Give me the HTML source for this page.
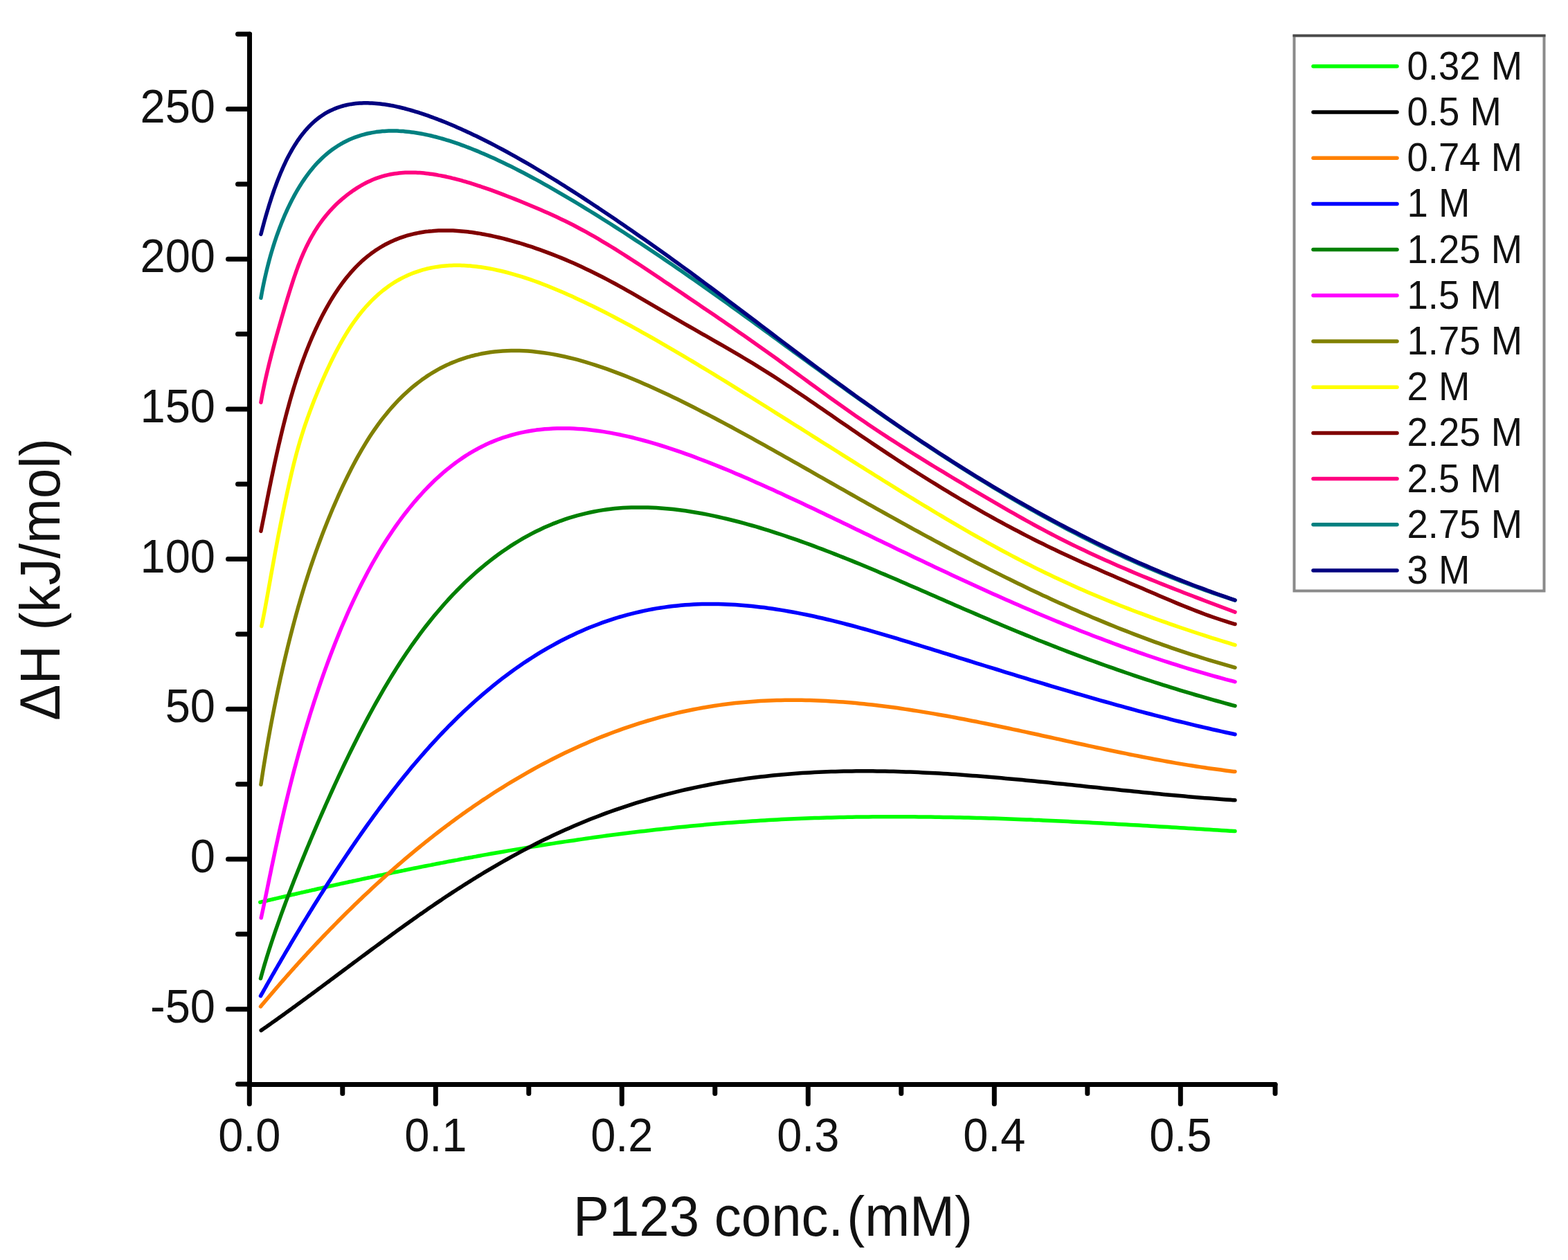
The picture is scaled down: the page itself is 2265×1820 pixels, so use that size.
<!DOCTYPE html><html><head><meta charset="utf-8"><style>html,body{margin:0;padding:0;background:#fff}svg{display:block}</style></head><body><svg width="2265" height="1820" viewBox="0 0 2265 1820">
<rect width="100%" height="100%" fill="#fff"/>
<g fill="none" stroke-width="5.5" stroke-linejoin="round" stroke-linecap="round">
<path stroke="#00FF00" d="M375.8 1303.2 L377.3 1302.9 L378.8 1302.5 L380.3 1302.2 L381.8 1301.8 L383.3 1301.5 L384.8 1301.1 L386.3 1300.7 L387.8 1300.4 L389.3 1300.0 L390.8 1299.7 L392.3 1299.3 L393.8 1299.0 L395.3 1298.6 L396.8 1298.3 L398.3 1297.9 L399.8 1297.6 L401.3 1297.2 L402.8 1296.9 L404.3 1296.5 L405.8 1296.2 L407.3 1295.8 L408.8 1295.5 L410.3 1295.1 L411.8 1294.8 L413.3 1294.4 L414.8 1294.1 L416.3 1293.7 L417.8 1293.4 L419.3 1293.0 L420.8 1292.7 L422.3 1292.3 L423.8 1292.0 L425.3 1291.7 L426.8 1291.3 L428.3 1291.0 L429.8 1290.6 L431.3 1290.3 L432.8 1289.9 L434.3 1289.6 L435.8 1289.2 L437.3 1288.9 L438.8 1288.6 L440.3 1288.2 L441.8 1287.9 L443.3 1287.5 L444.8 1287.2 L446.3 1286.9 L447.8 1286.5 L449.3 1286.2 L450.8 1285.8 L453.8 1285.2 L456.8 1284.5 L459.8 1283.8 L462.8 1283.1 L465.8 1282.4 L468.8 1281.8 L471.8 1281.1 L474.8 1280.4 L477.8 1279.8 L480.8 1279.1 L483.8 1278.4 L486.8 1277.8 L489.8 1277.1 L492.8 1276.4 L495.8 1275.8 L498.8 1275.1 L501.8 1274.5 L504.8 1273.8 L507.8 1273.2 L510.8 1272.5 L513.8 1271.9 L516.8 1271.2 L519.8 1270.6 L522.8 1269.9 L525.8 1269.3 L528.8 1268.6 L531.8 1268.0 L534.8 1267.4 L537.8 1266.7 L540.8 1266.1 L543.8 1265.4 L546.8 1264.8 L549.8 1264.2 L552.8 1263.6 L555.8 1262.9 L558.8 1262.3 L561.8 1261.7 L564.8 1261.1 L567.8 1260.4 L570.8 1259.8 L573.8 1259.2 L576.8 1258.6 L579.8 1258.0 L582.8 1257.4 L585.8 1256.7 L588.8 1256.1 L591.8 1255.5 L594.8 1254.9 L597.8 1254.3 L600.8 1253.7 L603.8 1253.1 L606.8 1252.5 L609.8 1251.9 L612.8 1251.3 L615.8 1250.7 L618.8 1250.1 L621.8 1249.6 L624.8 1249.0 L627.8 1248.4 L630.8 1247.8 L633.8 1247.2 L636.8 1246.6 L639.8 1246.1 L642.8 1245.5 L645.8 1244.9 L648.8 1244.3 L651.8 1243.8 L654.8 1243.2 L657.8 1242.6 L660.8 1242.1 L663.8 1241.5 L666.8 1240.9 L669.8 1240.4 L672.8 1239.8 L675.8 1239.3 L678.8 1238.7 L681.8 1238.2 L684.8 1237.6 L687.8 1237.1 L690.8 1236.5 L693.8 1236.0 L696.8 1235.4 L699.8 1234.9 L702.8 1234.4 L708.8 1233.3 L714.8 1232.2 L720.8 1231.2 L726.8 1230.2 L732.8 1229.1 L738.8 1228.1 L744.8 1227.1 L750.8 1226.1 L756.8 1225.1 L762.8 1224.1 L768.8 1223.1 L774.8 1222.2 L780.8 1221.2 L786.8 1220.2 L792.8 1219.3 L798.8 1218.4 L804.8 1217.4 L810.8 1216.5 L816.8 1215.6 L822.8 1214.7 L828.8 1213.9 L834.8 1213.0 L840.8 1212.1 L846.8 1211.3 L852.8 1210.4 L858.8 1209.6 L864.8 1208.8 L870.8 1207.9 L876.8 1207.1 L882.8 1206.3 L888.8 1205.6 L894.8 1204.8 L900.8 1204.0 L906.8 1203.3 L912.8 1202.5 L918.8 1201.8 L924.8 1201.1 L930.8 1200.4 L936.8 1199.7 L942.8 1199.0 L948.8 1198.3 L954.8 1197.7 L960.8 1197.0 L966.8 1196.4 L972.8 1195.7 L978.8 1195.1 L984.8 1194.5 L990.8 1193.9 L996.8 1193.3 L1002.8 1192.8 L1008.8 1192.2 L1014.8 1191.7 L1020.8 1191.1 L1026.8 1190.6 L1032.8 1190.1 L1038.8 1189.6 L1044.8 1189.1 L1050.8 1188.6 L1056.8 1188.2 L1062.8 1187.7 L1068.8 1187.3 L1074.8 1186.9 L1080.8 1186.4 L1086.8 1186.0 L1092.8 1185.7 L1098.8 1185.3 L1104.8 1184.9 L1110.8 1184.6 L1116.8 1184.2 L1122.8 1183.9 L1128.8 1183.6 L1134.8 1183.3 L1140.8 1183.0 L1146.8 1182.8 L1152.8 1182.5 L1158.8 1182.3 L1164.8 1182.0 L1170.8 1181.8 L1176.8 1181.6 L1182.8 1181.4 L1188.8 1181.2 L1194.8 1181.0 L1200.8 1180.9 L1206.8 1180.7 L1212.8 1180.6 L1218.8 1180.4 L1224.8 1180.3 L1230.8 1180.2 L1236.8 1180.1 L1242.8 1180.0 L1248.8 1180.0 L1254.8 1179.9 L1260.8 1179.8 L1266.8 1179.8 L1272.8 1179.8 L1278.8 1179.7 L1284.8 1179.7 L1290.8 1179.7 L1296.8 1179.7 L1302.8 1179.7 L1308.8 1179.8 L1314.8 1179.8 L1320.8 1179.8 L1326.8 1179.9 L1332.8 1179.9 L1338.8 1180.0 L1344.8 1180.1 L1350.8 1180.2 L1356.8 1180.2 L1362.8 1180.4 L1368.8 1180.5 L1374.8 1180.6 L1380.8 1180.7 L1386.8 1180.8 L1392.8 1181.0 L1398.8 1181.1 L1404.8 1181.3 L1410.8 1181.4 L1416.8 1181.6 L1422.8 1181.8 L1428.8 1182.0 L1434.8 1182.1 L1440.8 1182.3 L1446.8 1182.5 L1452.8 1182.8 L1458.8 1183.0 L1464.8 1183.2 L1470.8 1183.4 L1476.8 1183.7 L1482.8 1183.9 L1488.8 1184.1 L1494.8 1184.4 L1500.8 1184.6 L1506.8 1184.9 L1512.8 1185.2 L1518.8 1185.4 L1524.8 1185.7 L1530.8 1186.0 L1536.8 1186.3 L1542.8 1186.6 L1548.8 1186.9 L1554.8 1187.2 L1560.8 1187.5 L1566.8 1187.8 L1572.8 1188.1 L1578.8 1188.4 L1584.8 1188.7 L1590.8 1189.0 L1596.8 1189.4 L1602.8 1189.7 L1608.8 1190.0 L1614.8 1190.4 L1620.8 1190.7 L1626.8 1191.0 L1632.8 1191.4 L1638.8 1191.7 L1644.8 1192.1 L1650.8 1192.4 L1656.8 1192.8 L1662.8 1193.2 L1668.8 1193.5 L1674.8 1193.9 L1680.8 1194.2 L1686.8 1194.6 L1692.8 1195.0 L1698.8 1195.3 L1704.8 1195.7 L1710.8 1196.1 L1716.8 1196.4 L1722.8 1196.8 L1728.8 1197.2 L1734.8 1197.6 L1740.8 1197.9 L1746.8 1198.3 L1752.8 1198.7 L1758.8 1199.0 L1764.8 1199.4 L1770.8 1199.8 L1776.8 1200.2 L1782.8 1200.5 L1784.0 1200.6"/>
<path stroke="#000000" d="M377.2 1488.4 L378.7 1487.4 L380.2 1486.3 L381.7 1485.3 L383.2 1484.2 L384.7 1483.2 L386.2 1482.1 L387.7 1481.1 L389.2 1480.0 L390.7 1479.0 L392.2 1477.9 L393.7 1476.8 L395.2 1475.8 L396.7 1474.7 L398.2 1473.6 L399.7 1472.6 L401.2 1471.5 L402.7 1470.4 L404.2 1469.4 L405.7 1468.3 L407.2 1467.2 L408.7 1466.1 L410.2 1465.1 L411.7 1464.0 L413.2 1462.9 L414.7 1461.8 L416.2 1460.7 L417.7 1459.6 L419.2 1458.6 L420.7 1457.5 L422.2 1456.4 L423.7 1455.3 L425.2 1454.2 L426.7 1453.1 L428.2 1452.0 L429.7 1450.9 L431.2 1449.8 L432.7 1448.7 L434.2 1447.6 L435.7 1446.5 L437.2 1445.4 L438.7 1444.3 L440.2 1443.2 L441.7 1442.1 L443.2 1441.0 L444.7 1439.9 L446.2 1438.8 L447.7 1437.7 L449.2 1436.6 L450.7 1435.5 L453.7 1433.3 L456.7 1431.1 L459.7 1428.8 L462.7 1426.6 L465.7 1424.4 L468.7 1422.1 L471.7 1419.9 L474.7 1417.7 L477.7 1415.4 L480.7 1413.2 L483.7 1411.0 L486.7 1408.7 L489.7 1406.5 L492.7 1404.3 L495.7 1402.0 L498.7 1399.8 L501.7 1397.6 L504.7 1395.3 L507.7 1393.1 L510.7 1390.8 L513.7 1388.6 L516.7 1386.4 L519.7 1384.1 L522.7 1381.9 L525.7 1379.7 L528.7 1377.5 L531.7 1375.2 L534.7 1373.0 L537.7 1370.8 L540.7 1368.6 L543.7 1366.4 L546.7 1364.2 L549.7 1362.0 L552.7 1359.7 L555.7 1357.6 L558.7 1355.4 L561.7 1353.2 L564.7 1351.0 L567.7 1348.8 L570.7 1346.6 L573.7 1344.4 L576.7 1342.3 L579.7 1340.1 L582.7 1338.0 L585.7 1335.8 L588.7 1333.7 L591.7 1331.5 L594.7 1329.4 L597.7 1327.3 L600.7 1325.2 L603.7 1323.1 L606.7 1320.9 L609.7 1318.9 L612.7 1316.8 L615.7 1314.7 L618.7 1312.6 L621.7 1310.5 L624.7 1308.5 L627.7 1306.4 L630.7 1304.4 L633.7 1302.4 L636.7 1300.4 L639.7 1298.3 L642.7 1296.3 L645.7 1294.3 L648.7 1292.4 L651.7 1290.4 L654.7 1288.4 L657.7 1286.5 L660.7 1284.5 L663.7 1282.6 L666.7 1280.7 L669.7 1278.8 L672.7 1276.9 L675.7 1275.0 L678.7 1273.1 L681.7 1271.2 L684.7 1269.3 L687.7 1267.5 L690.7 1265.6 L693.7 1263.8 L696.7 1262.0 L699.7 1260.2 L702.7 1258.4 L708.7 1254.8 L714.7 1251.3 L720.7 1247.8 L726.7 1244.4 L732.7 1241.0 L738.7 1237.6 L744.7 1234.3 L750.7 1231.1 L756.7 1227.9 L762.7 1224.7 L768.7 1221.6 L774.7 1218.5 L780.7 1215.5 L786.7 1212.6 L792.7 1209.7 L798.7 1206.8 L804.7 1204.0 L810.7 1201.2 L816.7 1198.5 L822.7 1195.9 L828.7 1193.3 L834.7 1190.7 L840.7 1188.2 L846.7 1185.7 L852.7 1183.3 L858.7 1181.0 L864.7 1178.7 L870.7 1176.4 L876.7 1174.2 L882.7 1172.0 L888.7 1169.9 L894.7 1167.8 L900.7 1165.8 L906.7 1163.8 L912.7 1161.8 L918.7 1159.9 L924.7 1158.1 L930.7 1156.3 L936.7 1154.5 L942.7 1152.8 L948.7 1151.1 L954.7 1149.5 L960.7 1147.9 L966.7 1146.3 L972.7 1144.8 L978.7 1143.3 L984.7 1141.9 L990.7 1140.5 L996.7 1139.2 L1002.7 1137.9 L1008.7 1136.6 L1014.7 1135.4 L1020.7 1134.2 L1026.7 1133.0 L1032.7 1131.9 L1038.7 1130.8 L1044.7 1129.8 L1050.7 1128.8 L1056.7 1127.8 L1062.7 1126.9 L1068.7 1126.0 L1074.7 1125.1 L1080.7 1124.3 L1086.7 1123.5 L1092.7 1122.8 L1098.7 1122.1 L1104.7 1121.4 L1110.7 1120.7 L1116.7 1120.1 L1122.7 1119.5 L1128.7 1118.9 L1134.7 1118.4 L1140.7 1117.9 L1146.7 1117.5 L1152.7 1117.0 L1158.7 1116.6 L1164.7 1116.2 L1170.7 1115.9 L1176.7 1115.6 L1182.7 1115.3 L1188.7 1115.0 L1194.7 1114.8 L1200.7 1114.6 L1206.7 1114.4 L1212.7 1114.2 L1218.7 1114.1 L1224.7 1114.0 L1230.7 1113.9 L1236.7 1113.8 L1242.7 1113.8 L1248.7 1113.8 L1254.7 1113.8 L1260.7 1113.8 L1266.7 1113.9 L1272.7 1114.0 L1278.7 1114.1 L1284.7 1114.2 L1290.7 1114.3 L1296.7 1114.5 L1302.7 1114.7 L1308.7 1114.9 L1314.7 1115.1 L1320.7 1115.3 L1326.7 1115.6 L1332.7 1115.9 L1338.7 1116.2 L1344.7 1116.5 L1350.7 1116.8 L1356.7 1117.1 L1362.7 1117.5 L1368.7 1117.8 L1374.7 1118.2 L1380.7 1118.6 L1386.7 1119.0 L1392.7 1119.5 L1398.7 1119.9 L1404.7 1120.4 L1410.7 1120.8 L1416.7 1121.3 L1422.7 1121.8 L1428.7 1122.3 L1434.7 1122.8 L1440.7 1123.3 L1446.7 1123.8 L1452.7 1124.4 L1458.7 1124.9 L1464.7 1125.5 L1470.7 1126.0 L1476.7 1126.6 L1482.7 1127.2 L1488.7 1127.7 L1494.7 1128.3 L1500.7 1128.9 L1506.7 1129.5 L1512.7 1130.1 L1518.7 1130.7 L1524.7 1131.4 L1530.7 1132.0 L1536.7 1132.6 L1542.7 1133.2 L1548.7 1133.8 L1554.7 1134.5 L1560.7 1135.1 L1566.7 1135.7 L1572.7 1136.4 L1578.7 1137.0 L1584.7 1137.6 L1590.7 1138.3 L1596.7 1138.9 L1602.7 1139.5 L1608.7 1140.1 L1614.7 1140.8 L1620.7 1141.4 L1626.7 1142.0 L1632.7 1142.6 L1638.7 1143.2 L1644.7 1143.8 L1650.7 1144.5 L1656.7 1145.1 L1662.7 1145.6 L1668.7 1146.2 L1674.7 1146.8 L1680.7 1147.4 L1686.7 1148.0 L1692.7 1148.5 L1698.7 1149.1 L1704.7 1149.6 L1710.7 1150.1 L1716.7 1150.7 L1722.7 1151.2 L1728.7 1151.7 L1734.7 1152.2 L1740.7 1152.7 L1746.7 1153.1 L1752.7 1153.6 L1758.7 1154.1 L1764.7 1154.5 L1770.7 1154.9 L1776.7 1155.3 L1782.7 1155.7 L1784.0 1155.8"/>
<path stroke="#FF8000" d="M376.5 1453.9 L378.0 1452.1 L379.5 1450.3 L381.0 1448.6 L382.5 1446.8 L384.0 1445.0 L385.5 1443.2 L387.0 1441.5 L388.5 1439.7 L390.0 1437.9 L391.5 1436.2 L393.0 1434.4 L394.5 1432.7 L396.0 1430.9 L397.5 1429.2 L399.0 1427.4 L400.5 1425.7 L402.0 1424.0 L403.5 1422.3 L405.0 1420.5 L406.5 1418.8 L408.0 1417.1 L409.5 1415.4 L411.0 1413.7 L412.5 1412.0 L414.0 1410.3 L415.5 1408.6 L417.0 1406.9 L418.5 1405.2 L420.0 1403.5 L421.5 1401.8 L423.0 1400.1 L424.5 1398.5 L426.0 1396.8 L427.5 1395.1 L429.0 1393.5 L430.5 1391.8 L432.0 1390.1 L433.5 1388.5 L435.0 1386.8 L436.5 1385.2 L438.0 1383.6 L439.5 1381.9 L441.0 1380.3 L442.5 1378.7 L444.0 1377.0 L445.5 1375.4 L447.0 1373.8 L448.5 1372.2 L450.0 1370.6 L453.0 1367.4 L456.0 1364.2 L459.0 1361.0 L462.0 1357.8 L465.0 1354.7 L468.0 1351.5 L471.0 1348.4 L474.0 1345.3 L477.0 1342.2 L480.0 1339.2 L483.0 1336.1 L486.0 1333.1 L489.0 1330.0 L492.0 1327.0 L495.0 1324.0 L498.0 1321.0 L501.0 1318.1 L504.0 1315.1 L507.0 1312.2 L510.0 1309.2 L513.0 1306.3 L516.0 1303.4 L519.0 1300.6 L522.0 1297.7 L525.0 1294.8 L528.0 1292.0 L531.0 1289.2 L534.0 1286.4 L537.0 1283.6 L540.0 1280.8 L543.0 1278.0 L546.0 1275.3 L549.0 1272.6 L552.0 1269.8 L555.0 1267.1 L558.0 1264.5 L561.0 1261.8 L564.0 1259.1 L567.0 1256.5 L570.0 1253.9 L573.0 1251.2 L576.0 1248.6 L579.0 1246.1 L582.0 1243.5 L585.0 1240.9 L588.0 1238.4 L591.0 1235.9 L594.0 1233.4 L597.0 1230.9 L600.0 1228.4 L603.0 1225.9 L606.0 1223.5 L609.0 1221.0 L612.0 1218.6 L615.0 1216.2 L618.0 1213.8 L621.0 1211.4 L624.0 1209.1 L627.0 1206.7 L630.0 1204.4 L633.0 1202.0 L636.0 1199.7 L639.0 1197.4 L642.0 1195.2 L645.0 1192.9 L648.0 1190.7 L651.0 1188.4 L654.0 1186.2 L657.0 1184.0 L660.0 1181.8 L663.0 1179.6 L666.0 1177.5 L669.0 1175.3 L672.0 1173.2 L675.0 1171.1 L678.0 1169.0 L681.0 1166.9 L684.0 1164.8 L687.0 1162.7 L690.0 1160.7 L693.0 1158.7 L696.0 1156.6 L699.0 1154.6 L702.0 1152.7 L708.0 1148.7 L714.0 1144.8 L720.0 1141.0 L726.0 1137.3 L732.0 1133.5 L738.0 1129.9 L744.0 1126.3 L750.0 1122.8 L756.0 1119.3 L762.0 1115.9 L768.0 1112.5 L774.0 1109.2 L780.0 1105.9 L786.0 1102.8 L792.0 1099.6 L798.0 1096.5 L804.0 1093.5 L810.0 1090.5 L816.0 1087.6 L822.0 1084.8 L828.0 1082.0 L834.0 1079.2 L840.0 1076.5 L846.0 1073.9 L852.0 1071.3 L858.0 1068.8 L864.0 1066.3 L870.0 1063.9 L876.0 1061.6 L882.0 1059.3 L888.0 1057.0 L894.0 1054.8 L900.0 1052.7 L906.0 1050.6 L912.0 1048.6 L918.0 1046.6 L924.0 1044.7 L930.0 1042.8 L936.0 1041.0 L942.0 1039.3 L948.0 1037.6 L954.0 1035.9 L960.0 1034.4 L966.0 1032.8 L972.0 1031.3 L978.0 1029.9 L984.0 1028.5 L990.0 1027.2 L996.0 1026.0 L1002.0 1024.8 L1008.0 1023.6 L1014.0 1022.5 L1020.0 1021.5 L1026.0 1020.5 L1032.0 1019.5 L1038.0 1018.6 L1044.0 1017.8 L1050.0 1017.0 L1056.0 1016.3 L1062.0 1015.6 L1068.0 1015.0 L1074.0 1014.4 L1080.0 1013.9 L1086.0 1013.4 L1092.0 1013.0 L1098.0 1012.6 L1104.0 1012.3 L1110.0 1012.0 L1116.0 1011.8 L1122.0 1011.6 L1128.0 1011.4 L1134.0 1011.3 L1140.0 1011.3 L1146.0 1011.3 L1152.0 1011.3 L1158.0 1011.3 L1164.0 1011.5 L1170.0 1011.6 L1176.0 1011.8 L1182.0 1012.0 L1188.0 1012.3 L1194.0 1012.6 L1200.0 1012.9 L1206.0 1013.3 L1212.0 1013.7 L1218.0 1014.1 L1224.0 1014.6 L1230.0 1015.1 L1236.0 1015.6 L1242.0 1016.2 L1248.0 1016.8 L1254.0 1017.4 L1260.0 1018.1 L1266.0 1018.8 L1272.0 1019.5 L1278.0 1020.2 L1284.0 1021.0 L1290.0 1021.8 L1296.0 1022.6 L1302.0 1023.5 L1308.0 1024.4 L1314.0 1025.3 L1320.0 1026.2 L1326.0 1027.1 L1332.0 1028.1 L1338.0 1029.1 L1344.0 1030.1 L1350.0 1031.1 L1356.0 1032.2 L1362.0 1033.2 L1368.0 1034.3 L1374.0 1035.4 L1380.0 1036.5 L1386.0 1037.7 L1392.0 1038.8 L1398.0 1040.0 L1404.0 1041.2 L1410.0 1042.3 L1416.0 1043.6 L1422.0 1044.8 L1428.0 1046.0 L1434.0 1047.2 L1440.0 1048.5 L1446.0 1049.7 L1452.0 1051.0 L1458.0 1052.3 L1464.0 1053.6 L1470.0 1054.8 L1476.0 1056.1 L1482.0 1057.4 L1488.0 1058.7 L1494.0 1060.0 L1500.0 1061.3 L1506.0 1062.7 L1512.0 1064.0 L1518.0 1065.3 L1524.0 1066.6 L1530.0 1067.9 L1536.0 1069.2 L1542.0 1070.6 L1548.0 1071.9 L1554.0 1073.2 L1560.0 1074.5 L1566.0 1075.8 L1572.0 1077.1 L1578.0 1078.4 L1584.0 1079.7 L1590.0 1080.9 L1596.0 1082.2 L1602.0 1083.5 L1608.0 1084.7 L1614.0 1086.0 L1620.0 1087.2 L1626.0 1088.4 L1632.0 1089.7 L1638.0 1090.9 L1644.0 1092.0 L1650.0 1093.2 L1656.0 1094.4 L1662.0 1095.5 L1668.0 1096.7 L1674.0 1097.8 L1680.0 1098.9 L1686.0 1100.0 L1692.0 1101.0 L1698.0 1102.1 L1704.0 1103.1 L1710.0 1104.1 L1716.0 1105.1 L1722.0 1106.0 L1728.0 1107.0 L1734.0 1107.9 L1740.0 1108.8 L1746.0 1109.7 L1752.0 1110.5 L1758.0 1111.3 L1764.0 1112.1 L1770.0 1112.9 L1776.0 1113.7 L1782.0 1114.4 L1784.0 1114.6"/>
<path stroke="#0000FF" d="M376.5 1438.6 L378.0 1435.9 L379.5 1433.3 L381.0 1430.6 L382.5 1428.0 L384.0 1425.3 L385.5 1422.7 L387.0 1420.0 L388.5 1417.4 L390.0 1414.8 L391.5 1412.2 L393.0 1409.5 L394.5 1406.9 L396.0 1404.3 L397.5 1401.7 L399.0 1399.1 L400.5 1396.5 L402.0 1393.9 L403.5 1391.3 L405.0 1388.8 L406.5 1386.2 L408.0 1383.6 L409.5 1381.1 L411.0 1378.5 L412.5 1375.9 L414.0 1373.4 L415.5 1370.8 L417.0 1368.3 L418.5 1365.8 L420.0 1363.2 L421.5 1360.7 L423.0 1358.2 L424.5 1355.7 L426.0 1353.2 L427.5 1350.6 L429.0 1348.1 L430.5 1345.6 L432.0 1343.2 L433.5 1340.7 L435.0 1338.2 L436.5 1335.7 L438.0 1333.2 L439.5 1330.8 L441.0 1328.3 L442.5 1325.9 L444.0 1323.4 L445.5 1321.0 L447.0 1318.5 L448.5 1316.1 L450.0 1313.7 L453.0 1308.8 L456.0 1304.0 L459.0 1299.2 L462.0 1294.4 L465.0 1289.7 L468.0 1285.0 L471.0 1280.3 L474.0 1275.6 L477.0 1270.9 L480.0 1266.3 L483.0 1261.7 L486.0 1257.1 L489.0 1252.5 L492.0 1248.0 L495.0 1243.5 L498.0 1239.0 L501.0 1234.5 L504.0 1230.1 L507.0 1225.6 L510.0 1221.2 L513.0 1216.9 L516.0 1212.5 L519.0 1208.2 L522.0 1203.9 L525.0 1199.7 L528.0 1195.4 L531.0 1191.2 L534.0 1187.0 L537.0 1182.9 L540.0 1178.7 L543.0 1174.6 L546.0 1170.5 L549.0 1166.5 L552.0 1162.5 L555.0 1158.5 L558.0 1154.5 L561.0 1150.6 L564.0 1146.7 L567.0 1142.8 L570.0 1138.9 L573.0 1135.1 L576.0 1131.3 L579.0 1127.5 L582.0 1123.8 L585.0 1120.1 L588.0 1116.4 L591.0 1112.8 L594.0 1109.1 L597.0 1105.5 L600.0 1102.0 L603.0 1098.5 L606.0 1095.0 L609.0 1091.5 L612.0 1088.1 L615.0 1084.6 L618.0 1081.3 L621.0 1077.9 L624.0 1074.6 L627.0 1071.3 L630.0 1068.1 L633.0 1064.9 L636.0 1061.7 L639.0 1058.5 L642.0 1055.4 L645.0 1052.3 L648.0 1049.2 L651.0 1046.2 L654.0 1043.2 L657.0 1040.2 L660.0 1037.3 L663.0 1034.3 L666.0 1031.4 L669.0 1028.6 L672.0 1025.8 L675.0 1023.0 L678.0 1020.2 L681.0 1017.4 L684.0 1014.7 L687.0 1012.0 L690.0 1009.4 L693.0 1006.8 L696.0 1004.2 L699.0 1001.6 L702.0 999.1 L708.0 994.1 L714.0 989.2 L720.0 984.4 L726.0 979.7 L732.0 975.2 L738.0 970.8 L744.0 966.4 L750.0 962.2 L756.0 958.1 L762.0 954.1 L768.0 950.2 L774.0 946.4 L780.0 942.7 L786.0 939.1 L792.0 935.6 L798.0 932.3 L804.0 929.0 L810.0 925.8 L816.0 922.7 L822.0 919.8 L828.0 916.9 L834.0 914.1 L840.0 911.4 L846.0 908.8 L852.0 906.3 L858.0 904.0 L864.0 901.7 L870.0 899.4 L876.0 897.3 L882.0 895.3 L888.0 893.4 L894.0 891.5 L900.0 889.8 L906.0 888.1 L912.0 886.6 L918.0 885.1 L924.0 883.7 L930.0 882.4 L936.0 881.1 L942.0 880.0 L948.0 878.9 L954.0 878.0 L960.0 877.1 L966.0 876.3 L972.0 875.5 L978.0 874.9 L984.0 874.3 L990.0 873.8 L996.0 873.4 L1002.0 873.1 L1008.0 872.8 L1014.0 872.6 L1020.0 872.5 L1026.0 872.5 L1032.0 872.5 L1038.0 872.6 L1044.0 872.7 L1050.0 872.9 L1056.0 873.2 L1062.0 873.6 L1068.0 874.0 L1074.0 874.4 L1080.0 875.0 L1086.0 875.5 L1092.0 876.2 L1098.0 876.9 L1104.0 877.6 L1110.0 878.4 L1116.0 879.3 L1122.0 880.2 L1128.0 881.1 L1134.0 882.1 L1140.0 883.2 L1146.0 884.3 L1152.0 885.4 L1158.0 886.6 L1164.0 887.8 L1170.0 889.0 L1176.0 890.3 L1182.0 891.7 L1188.0 893.0 L1194.0 894.5 L1200.0 895.9 L1206.0 897.4 L1212.0 898.9 L1218.0 900.4 L1224.0 902.0 L1230.0 903.5 L1236.0 905.2 L1242.0 906.8 L1248.0 908.5 L1254.0 910.1 L1260.0 911.8 L1266.0 913.6 L1272.0 915.3 L1278.0 917.1 L1284.0 918.8 L1290.0 920.6 L1296.0 922.4 L1302.0 924.3 L1308.0 926.1 L1314.0 927.9 L1320.0 929.8 L1326.0 931.6 L1332.0 933.5 L1338.0 935.3 L1344.0 937.2 L1350.0 939.1 L1356.0 940.9 L1362.0 942.8 L1368.0 944.7 L1374.0 946.5 L1380.0 948.4 L1386.0 950.3 L1392.0 952.2 L1398.0 954.0 L1404.0 955.9 L1410.0 957.8 L1416.0 959.6 L1422.0 961.5 L1428.0 963.3 L1434.0 965.2 L1440.0 967.0 L1446.0 968.9 L1452.0 970.8 L1458.0 972.6 L1464.0 974.4 L1470.0 976.3 L1476.0 978.1 L1482.0 979.9 L1488.0 981.8 L1494.0 983.6 L1500.0 985.4 L1506.0 987.2 L1512.0 989.0 L1518.0 990.8 L1524.0 992.6 L1530.0 994.4 L1536.0 996.2 L1542.0 997.9 L1548.0 999.7 L1554.0 1001.5 L1560.0 1003.2 L1566.0 1004.9 L1572.0 1006.7 L1578.0 1008.4 L1584.0 1010.1 L1590.0 1011.8 L1596.0 1013.5 L1602.0 1015.2 L1608.0 1016.9 L1614.0 1018.6 L1620.0 1020.2 L1626.0 1021.9 L1632.0 1023.5 L1638.0 1025.1 L1644.0 1026.8 L1650.0 1028.4 L1656.0 1030.0 L1662.0 1031.5 L1668.0 1033.1 L1674.0 1034.7 L1680.0 1036.2 L1686.0 1037.7 L1692.0 1039.3 L1698.0 1040.8 L1704.0 1042.2 L1710.0 1043.7 L1716.0 1045.2 L1722.0 1046.6 L1728.0 1048.1 L1734.0 1049.5 L1740.0 1050.9 L1746.0 1052.3 L1752.0 1053.7 L1758.0 1055.0 L1764.0 1056.4 L1770.0 1057.7 L1776.0 1059.0 L1782.0 1060.3 L1784.0 1060.7"/>
<path stroke="#008000" d="M376.5 1413.4 L378.0 1407.8 L379.5 1402.5 L381.0 1397.2 L382.5 1392.1 L384.0 1387.2 L385.5 1382.3 L387.0 1377.5 L388.5 1372.7 L390.0 1368.1 L391.5 1363.5 L393.0 1359.0 L394.5 1354.5 L396.0 1350.1 L397.5 1345.7 L399.0 1341.3 L400.5 1337.1 L402.0 1332.8 L403.5 1328.6 L405.0 1324.4 L406.5 1320.2 L408.0 1316.1 L409.5 1312.0 L411.0 1308.0 L412.5 1303.9 L414.0 1299.9 L415.5 1296.0 L417.0 1292.0 L418.5 1288.1 L420.0 1284.2 L421.5 1280.3 L423.0 1276.4 L424.5 1272.6 L426.0 1268.8 L427.5 1265.0 L429.0 1261.2 L430.5 1257.4 L432.0 1253.7 L433.5 1250.0 L435.0 1246.3 L436.5 1242.6 L438.0 1238.9 L439.5 1235.2 L441.0 1231.6 L442.5 1227.9 L444.0 1224.3 L445.5 1220.7 L447.0 1217.1 L448.5 1213.5 L450.0 1210.0 L453.0 1202.9 L456.0 1195.9 L459.0 1188.9 L462.0 1182.0 L465.0 1175.1 L468.0 1168.3 L471.0 1161.5 L474.0 1154.8 L477.0 1148.1 L480.0 1141.5 L483.0 1134.9 L486.0 1128.4 L489.0 1121.9 L492.0 1115.5 L495.0 1109.1 L498.0 1102.8 L501.0 1096.6 L504.0 1090.4 L507.0 1084.3 L510.0 1078.2 L513.0 1072.2 L516.0 1066.2 L519.0 1060.3 L522.0 1054.5 L525.0 1048.7 L528.0 1043.0 L531.0 1037.4 L534.0 1031.8 L537.0 1026.3 L540.0 1020.8 L543.0 1015.4 L546.0 1010.1 L549.0 1004.8 L552.0 999.6 L555.0 994.4 L558.0 989.4 L561.0 984.3 L564.0 979.4 L567.0 974.5 L570.0 969.7 L573.0 964.9 L576.0 960.2 L579.0 955.6 L582.0 951.0 L585.0 946.5 L588.0 942.0 L591.0 937.7 L594.0 933.3 L597.0 929.1 L600.0 924.9 L603.0 920.8 L606.0 916.7 L609.0 912.7 L612.0 908.7 L615.0 904.8 L618.0 901.0 L621.0 897.2 L624.0 893.5 L627.0 889.8 L630.0 886.2 L633.0 882.7 L636.0 879.2 L639.0 875.7 L642.0 872.3 L645.0 869.0 L648.0 865.7 L651.0 862.4 L654.0 859.2 L657.0 856.1 L660.0 853.0 L663.0 850.0 L666.0 847.0 L669.0 844.0 L672.0 841.1 L675.0 838.3 L678.0 835.5 L681.0 832.7 L684.0 830.0 L687.0 827.3 L690.0 824.7 L693.0 822.1 L696.0 819.6 L699.0 817.1 L702.0 814.6 L708.0 809.8 L714.0 805.2 L720.0 800.8 L726.0 796.5 L732.0 792.4 L738.0 788.4 L744.0 784.6 L750.0 781.0 L756.0 777.4 L762.0 774.1 L768.0 770.9 L774.0 767.8 L780.0 764.9 L786.0 762.1 L792.0 759.5 L798.0 756.9 L804.0 754.6 L810.0 752.3 L816.0 750.2 L822.0 748.2 L828.0 746.4 L834.0 744.7 L840.0 743.1 L846.0 741.6 L852.0 740.2 L858.0 739.0 L864.0 737.9 L870.0 736.9 L876.0 736.0 L882.0 735.3 L888.0 734.6 L894.0 734.1 L900.0 733.6 L906.0 733.3 L912.0 733.1 L918.0 732.9 L924.0 732.9 L930.0 732.9 L936.0 733.0 L942.0 733.3 L948.0 733.6 L954.0 733.9 L960.0 734.4 L966.0 734.9 L972.0 735.6 L978.0 736.2 L984.0 737.0 L990.0 737.8 L996.0 738.7 L1002.0 739.7 L1008.0 740.7 L1014.0 741.8 L1020.0 742.9 L1026.0 744.1 L1032.0 745.4 L1038.0 746.7 L1044.0 748.1 L1050.0 749.5 L1056.0 751.0 L1062.0 752.5 L1068.0 754.0 L1074.0 755.6 L1080.0 757.3 L1086.0 759.0 L1092.0 760.7 L1098.0 762.5 L1104.0 764.4 L1110.0 766.2 L1116.0 768.1 L1122.0 770.1 L1128.0 772.0 L1134.0 774.0 L1140.0 776.1 L1146.0 778.1 L1152.0 780.2 L1158.0 782.4 L1164.0 784.5 L1170.0 786.7 L1176.0 788.9 L1182.0 791.2 L1188.0 793.4 L1194.0 795.7 L1200.0 798.0 L1206.0 800.4 L1212.0 802.7 L1218.0 805.1 L1224.0 807.5 L1230.0 809.9 L1236.0 812.4 L1242.0 814.8 L1248.0 817.3 L1254.0 819.8 L1260.0 822.3 L1266.0 824.8 L1272.0 827.4 L1278.0 829.9 L1284.0 832.5 L1290.0 835.0 L1296.0 837.6 L1302.0 840.2 L1308.0 842.8 L1314.0 845.4 L1320.0 848.0 L1326.0 850.6 L1332.0 853.2 L1338.0 855.8 L1344.0 858.5 L1350.0 861.1 L1356.0 863.7 L1362.0 866.3 L1368.0 868.9 L1374.0 871.5 L1380.0 874.2 L1386.0 876.8 L1392.0 879.4 L1398.0 882.0 L1404.0 884.6 L1410.0 887.1 L1416.0 889.7 L1422.0 892.3 L1428.0 894.8 L1434.0 897.4 L1440.0 899.9 L1446.0 902.5 L1452.0 905.0 L1458.0 907.5 L1464.0 910.0 L1470.0 912.5 L1476.0 914.9 L1482.0 917.4 L1488.0 919.8 L1494.0 922.2 L1500.0 924.7 L1506.0 927.0 L1512.0 929.4 L1518.0 931.8 L1524.0 934.1 L1530.0 936.5 L1536.0 938.8 L1542.0 941.1 L1548.0 943.3 L1554.0 945.6 L1560.0 947.9 L1566.0 950.1 L1572.0 952.3 L1578.0 954.5 L1584.0 956.7 L1590.0 958.9 L1596.0 961.0 L1602.0 963.1 L1608.0 965.2 L1614.0 967.3 L1620.0 969.4 L1626.0 971.5 L1632.0 973.5 L1638.0 975.6 L1644.0 977.6 L1650.0 979.6 L1656.0 981.6 L1662.0 983.5 L1668.0 985.5 L1674.0 987.4 L1680.0 989.3 L1686.0 991.2 L1692.0 993.1 L1698.0 994.9 L1704.0 996.8 L1710.0 998.6 L1716.0 1000.4 L1722.0 1002.2 L1728.0 1004.0 L1734.0 1005.7 L1740.0 1007.4 L1746.0 1009.2 L1752.0 1010.9 L1758.0 1012.5 L1764.0 1014.2 L1770.0 1015.8 L1776.0 1017.5 L1782.0 1019.1 L1784.0 1019.6"/>
<path stroke="#FF00FF" d="M377.2 1325.8 L378.7 1319.0 L380.2 1312.0 L381.7 1304.8 L383.2 1297.6 L384.7 1290.3 L386.2 1283.0 L387.7 1275.6 L389.2 1268.3 L390.7 1261.1 L392.2 1253.8 L393.7 1246.6 L395.2 1239.5 L396.7 1232.4 L398.2 1225.3 L399.7 1218.4 L401.2 1211.5 L402.7 1204.6 L404.2 1197.9 L405.7 1191.2 L407.2 1184.6 L408.7 1178.1 L410.2 1171.6 L411.7 1165.3 L413.2 1159.0 L414.7 1152.8 L416.2 1146.6 L417.7 1140.6 L419.2 1134.6 L420.7 1128.7 L422.2 1122.8 L423.7 1117.0 L425.2 1111.3 L426.7 1105.7 L428.2 1100.1 L429.7 1094.6 L431.2 1089.1 L432.7 1083.7 L434.2 1078.4 L435.7 1073.1 L437.2 1067.9 L438.7 1062.7 L440.2 1057.6 L441.7 1052.5 L443.2 1047.5 L444.7 1042.6 L446.2 1037.7 L447.7 1032.8 L449.2 1028.0 L450.7 1023.3 L453.7 1013.9 L456.7 1004.8 L459.7 995.8 L462.7 987.0 L465.7 978.4 L468.7 969.9 L471.7 961.6 L474.7 953.5 L477.7 945.5 L480.7 937.7 L483.7 930.0 L486.7 922.5 L489.7 915.1 L492.7 907.8 L495.7 900.7 L498.7 893.8 L501.7 886.9 L504.7 880.2 L507.7 873.6 L510.7 867.2 L513.7 860.8 L516.7 854.6 L519.7 848.5 L522.7 842.5 L525.7 836.7 L528.7 830.9 L531.7 825.3 L534.7 819.8 L537.7 814.3 L540.7 809.0 L543.7 803.8 L546.7 798.7 L549.7 793.7 L552.7 788.8 L555.7 784.0 L558.7 779.3 L561.7 774.7 L564.7 770.2 L567.7 765.8 L570.7 761.4 L573.7 757.2 L576.7 753.0 L579.7 748.9 L582.7 744.9 L585.7 741.0 L588.7 737.2 L591.7 733.4 L594.7 729.7 L597.7 726.1 L600.7 722.6 L603.7 719.1 L606.7 715.8 L609.7 712.5 L612.7 709.2 L615.7 706.1 L618.7 703.0 L621.7 700.0 L624.7 697.0 L627.7 694.1 L630.7 691.3 L633.7 688.6 L636.7 685.9 L639.7 683.2 L642.7 680.7 L645.7 678.2 L648.7 675.8 L651.7 673.4 L654.7 671.1 L657.7 668.8 L660.7 666.6 L663.7 664.5 L666.7 662.4 L669.7 660.4 L672.7 658.4 L675.7 656.5 L678.7 654.7 L681.7 652.9 L684.7 651.1 L687.7 649.5 L690.7 647.8 L693.7 646.3 L696.7 644.7 L699.7 643.3 L702.7 641.8 L708.7 639.1 L714.7 636.6 L720.7 634.3 L726.7 632.2 L732.7 630.3 L738.7 628.5 L744.7 626.9 L750.7 625.4 L756.7 624.1 L762.7 623.0 L768.7 622.0 L774.7 621.1 L780.7 620.4 L786.7 619.8 L792.7 619.4 L798.7 619.0 L804.7 618.8 L810.7 618.7 L816.7 618.7 L822.7 618.8 L828.7 619.1 L834.7 619.4 L840.7 619.8 L846.7 620.3 L852.7 621.0 L858.7 621.7 L864.7 622.5 L870.7 623.4 L876.7 624.4 L882.7 625.4 L888.7 626.6 L894.7 627.8 L900.7 629.1 L906.7 630.4 L912.7 631.8 L918.7 633.3 L924.7 634.9 L930.7 636.5 L936.7 638.2 L942.7 639.9 L948.7 641.7 L954.7 643.5 L960.7 645.4 L966.7 647.3 L972.7 649.3 L978.7 651.4 L984.7 653.4 L990.7 655.6 L996.7 657.7 L1002.7 659.9 L1008.7 662.2 L1014.7 664.5 L1020.7 666.8 L1026.7 669.1 L1032.7 671.5 L1038.7 673.9 L1044.7 676.4 L1050.7 678.8 L1056.7 681.3 L1062.7 683.9 L1068.7 686.4 L1074.7 689.0 L1080.7 691.6 L1086.7 694.2 L1092.7 696.9 L1098.7 699.5 L1104.7 702.2 L1110.7 704.9 L1116.7 707.6 L1122.7 710.4 L1128.7 713.1 L1134.7 715.9 L1140.7 718.7 L1146.7 721.5 L1152.7 724.3 L1158.7 727.1 L1164.7 729.9 L1170.7 732.8 L1176.7 735.6 L1182.7 738.5 L1188.7 741.3 L1194.7 744.2 L1200.7 747.1 L1206.7 749.9 L1212.7 752.8 L1218.7 755.7 L1224.7 758.6 L1230.7 761.5 L1236.7 764.4 L1242.7 767.3 L1248.7 770.2 L1254.7 773.1 L1260.7 776.0 L1266.7 778.9 L1272.7 781.8 L1278.7 784.7 L1284.7 787.6 L1290.7 790.5 L1296.7 793.4 L1302.7 796.3 L1308.7 799.1 L1314.7 802.0 L1320.7 804.9 L1326.7 807.8 L1332.7 810.6 L1338.7 813.5 L1344.7 816.3 L1350.7 819.2 L1356.7 822.0 L1362.7 824.8 L1368.7 827.6 L1374.7 830.4 L1380.7 833.2 L1386.7 836.0 L1392.7 838.8 L1398.7 841.6 L1404.7 844.3 L1410.7 847.1 L1416.7 849.8 L1422.7 852.5 L1428.7 855.2 L1434.7 857.9 L1440.7 860.6 L1446.7 863.3 L1452.7 865.9 L1458.7 868.6 L1464.7 871.2 L1470.7 873.8 L1476.7 876.4 L1482.7 879.0 L1488.7 881.6 L1494.7 884.1 L1500.7 886.7 L1506.7 889.2 L1512.7 891.7 L1518.7 894.2 L1524.7 896.7 L1530.7 899.1 L1536.7 901.6 L1542.7 904.0 L1548.7 906.4 L1554.7 908.8 L1560.7 911.2 L1566.7 913.5 L1572.7 915.8 L1578.7 918.2 L1584.7 920.5 L1590.7 922.7 L1596.7 925.0 L1602.7 927.2 L1608.7 929.5 L1614.7 931.7 L1620.7 933.8 L1626.7 936.0 L1632.7 938.1 L1638.7 940.2 L1644.7 942.3 L1650.7 944.4 L1656.7 946.5 L1662.7 948.5 L1668.7 950.5 L1674.7 952.5 L1680.7 954.5 L1686.7 956.4 L1692.7 958.3 L1698.7 960.2 L1704.7 962.1 L1710.7 964.0 L1716.7 965.8 L1722.7 967.6 L1728.7 969.4 L1734.7 971.2 L1740.7 972.9 L1746.7 974.6 L1752.7 976.3 L1758.7 978.0 L1764.7 979.6 L1770.7 981.3 L1776.7 982.8 L1782.7 984.4 L1784.0 984.8"/>
<path stroke="#808000" d="M376.9 1133.3 L378.4 1123.4 L379.9 1113.7 L381.4 1104.3 L382.9 1095.2 L384.4 1086.3 L385.9 1077.6 L387.4 1069.1 L388.9 1060.7 L390.4 1052.6 L391.9 1044.6 L393.4 1036.7 L394.9 1029.0 L396.4 1021.4 L397.9 1014.0 L399.4 1006.6 L400.9 999.4 L402.4 992.4 L403.9 985.4 L405.4 978.5 L406.9 971.8 L408.4 965.2 L409.9 958.6 L411.4 952.2 L412.9 945.8 L414.4 939.6 L415.9 933.4 L417.4 927.4 L418.9 921.4 L420.4 915.5 L421.9 909.7 L423.4 904.0 L424.9 898.4 L426.4 892.8 L427.9 887.3 L429.4 881.9 L430.9 876.6 L432.4 871.4 L433.9 866.2 L435.4 861.1 L436.9 856.1 L438.4 851.2 L439.9 846.3 L441.4 841.5 L442.9 836.8 L444.4 832.1 L445.9 827.5 L447.4 822.9 L448.9 818.4 L450.4 814.0 L453.4 805.3 L456.4 796.8 L459.4 788.6 L462.4 780.5 L465.4 772.5 L468.4 764.8 L471.4 757.2 L474.4 749.8 L477.4 742.5 L480.4 735.3 L483.4 728.3 L486.4 721.5 L489.4 714.7 L492.4 708.1 L495.4 701.7 L498.4 695.4 L501.4 689.2 L504.4 683.2 L507.4 677.3 L510.4 671.5 L513.4 665.9 L516.4 660.4 L519.4 655.1 L522.4 649.8 L525.4 644.8 L528.4 639.8 L531.4 635.0 L534.4 630.3 L537.4 625.8 L540.4 621.4 L543.4 617.1 L546.4 612.9 L549.4 608.8 L552.4 604.9 L555.4 601.1 L558.4 597.4 L561.4 593.8 L564.4 590.3 L567.4 586.9 L570.4 583.6 L573.4 580.4 L576.4 577.2 L579.4 574.2 L582.4 571.3 L585.4 568.5 L588.4 565.7 L591.4 563.0 L594.4 560.4 L597.4 557.9 L600.4 555.5 L603.4 553.1 L606.4 550.9 L609.4 548.6 L612.4 546.5 L615.4 544.4 L618.4 542.4 L621.4 540.5 L624.4 538.7 L627.4 536.9 L630.4 535.1 L633.4 533.4 L636.4 531.8 L639.4 530.3 L642.4 528.8 L645.4 527.3 L648.4 526.0 L651.4 524.6 L654.4 523.4 L657.4 522.2 L660.4 521.0 L663.4 519.9 L666.4 518.8 L669.4 517.8 L672.4 516.8 L675.4 515.9 L678.4 515.1 L681.4 514.2 L684.4 513.5 L687.4 512.7 L690.4 512.1 L693.4 511.4 L696.4 510.8 L699.4 510.2 L702.4 509.7 L708.4 508.8 L714.4 508.1 L720.4 507.5 L726.4 507.0 L732.4 506.7 L738.4 506.5 L744.4 506.5 L750.4 506.6 L756.4 506.8 L762.4 507.1 L768.4 507.6 L774.4 508.2 L780.4 508.9 L786.4 509.7 L792.4 510.6 L798.4 511.6 L804.4 512.7 L810.4 514.0 L816.4 515.3 L822.4 516.7 L828.4 518.2 L834.4 519.7 L840.4 521.4 L846.4 523.1 L852.4 525.0 L858.4 526.8 L864.4 528.8 L870.4 530.8 L876.4 532.9 L882.4 535.1 L888.4 537.3 L894.4 539.6 L900.4 541.9 L906.4 544.3 L912.4 546.8 L918.4 549.2 L924.4 551.8 L930.4 554.4 L936.4 557.0 L942.4 559.7 L948.4 562.4 L954.4 565.2 L960.4 568.0 L966.4 570.8 L972.4 573.7 L978.4 576.6 L984.4 579.5 L990.4 582.5 L996.4 585.5 L1002.4 588.5 L1008.4 591.6 L1014.4 594.7 L1020.4 597.8 L1026.4 600.9 L1032.4 604.0 L1038.4 607.2 L1044.4 610.4 L1050.4 613.6 L1056.4 616.8 L1062.4 620.1 L1068.4 623.4 L1074.4 626.6 L1080.4 629.9 L1086.4 633.2 L1092.4 636.6 L1098.4 639.9 L1104.4 643.2 L1110.4 646.6 L1116.4 649.9 L1122.4 653.3 L1128.4 656.7 L1134.4 660.1 L1140.4 663.4 L1146.4 666.8 L1152.4 670.2 L1158.4 673.6 L1164.4 677.0 L1170.4 680.4 L1176.4 683.9 L1182.4 687.3 L1188.4 690.7 L1194.4 694.1 L1200.4 697.5 L1206.4 700.9 L1212.4 704.3 L1218.4 707.7 L1224.4 711.1 L1230.4 714.5 L1236.4 717.9 L1242.4 721.3 L1248.4 724.7 L1254.4 728.1 L1260.4 731.4 L1266.4 734.8 L1272.4 738.2 L1278.4 741.5 L1284.4 744.9 L1290.4 748.2 L1296.4 751.5 L1302.4 754.9 L1308.4 758.2 L1314.4 761.5 L1320.4 764.8 L1326.4 768.0 L1332.4 771.3 L1338.4 774.6 L1344.4 777.8 L1350.4 781.1 L1356.4 784.3 L1362.4 787.5 L1368.4 790.7 L1374.4 793.9 L1380.4 797.0 L1386.4 800.2 L1392.4 803.3 L1398.4 806.5 L1404.4 809.6 L1410.4 812.7 L1416.4 815.8 L1422.4 818.8 L1428.4 821.9 L1434.4 824.9 L1440.4 827.9 L1446.4 830.9 L1452.4 833.9 L1458.4 836.8 L1464.4 839.8 L1470.4 842.7 L1476.4 845.6 L1482.4 848.5 L1488.4 851.4 L1494.4 854.2 L1500.4 857.0 L1506.4 859.9 L1512.4 862.6 L1518.4 865.4 L1524.4 868.2 L1530.4 870.9 L1536.4 873.6 L1542.4 876.3 L1548.4 878.9 L1554.4 881.6 L1560.4 884.2 L1566.4 886.8 L1572.4 889.3 L1578.4 891.9 L1584.4 894.4 L1590.4 896.9 L1596.4 899.4 L1602.4 901.9 L1608.4 904.3 L1614.4 906.7 L1620.4 909.1 L1626.4 911.4 L1632.4 913.8 L1638.4 916.1 L1644.4 918.4 L1650.4 920.6 L1656.4 922.9 L1662.4 925.1 L1668.4 927.3 L1674.4 929.4 L1680.4 931.6 L1686.4 933.7 L1692.4 935.8 L1698.4 937.8 L1704.4 939.9 L1710.4 941.9 L1716.4 943.8 L1722.4 945.8 L1728.4 947.7 L1734.4 949.6 L1740.4 951.5 L1746.4 953.3 L1752.4 955.2 L1758.4 956.9 L1764.4 958.7 L1770.4 960.4 L1776.4 962.1 L1782.4 963.8 L1784.0 964.3"/>
<path stroke="#FFFF00" d="M377.8 904.5 L379.3 897.4 L380.8 889.8 L382.3 881.9 L383.8 873.8 L385.3 865.5 L386.8 857.2 L388.3 848.8 L389.8 840.4 L391.3 832.1 L392.8 823.7 L394.3 815.4 L395.8 807.2 L397.3 799.1 L398.8 791.0 L400.3 783.0 L401.8 775.1 L403.3 767.4 L404.8 759.7 L406.3 752.2 L407.8 744.8 L409.3 737.5 L410.8 730.3 L412.3 723.2 L413.8 716.2 L415.3 709.3 L416.8 702.5 L418.3 695.9 L419.8 689.3 L421.3 682.9 L422.8 676.6 L424.3 670.4 L425.8 664.5 L427.3 658.7 L428.8 653.1 L430.3 647.7 L431.8 642.5 L433.3 637.3 L434.8 632.4 L436.3 627.5 L437.8 622.8 L439.3 618.2 L440.8 613.7 L442.3 609.3 L443.8 605.0 L445.3 600.8 L446.8 596.7 L448.3 592.6 L449.8 588.7 L451.3 584.7 L454.3 577.1 L457.3 569.7 L460.3 562.4 L463.3 555.3 L466.3 548.4 L469.3 541.6 L472.3 535.0 L475.3 528.6 L478.3 522.3 L481.3 516.2 L484.3 510.3 L487.3 504.6 L490.3 499.0 L493.3 493.6 L496.3 488.4 L499.3 483.4 L502.3 478.5 L505.3 473.8 L508.3 469.3 L511.3 465.0 L514.3 460.8 L517.3 456.8 L520.3 453.0 L523.3 449.3 L526.3 445.7 L529.3 442.3 L532.3 439.1 L535.3 435.9 L538.3 432.9 L541.3 430.0 L544.3 427.2 L547.3 424.5 L550.3 422.0 L553.3 419.5 L556.3 417.2 L559.3 415.0 L562.3 412.8 L565.3 410.8 L568.3 408.8 L571.3 406.9 L574.3 405.2 L577.3 403.5 L580.3 401.9 L583.3 400.4 L586.3 398.9 L589.3 397.5 L592.3 396.2 L595.3 395.0 L598.3 393.9 L601.3 392.8 L604.3 391.8 L607.3 390.8 L610.3 389.9 L613.3 389.1 L616.3 388.3 L619.3 387.6 L622.3 387.0 L625.3 386.4 L628.3 385.9 L631.3 385.4 L634.3 385.0 L637.3 384.6 L640.3 384.3 L643.3 384.0 L646.3 383.8 L649.3 383.6 L652.3 383.4 L655.3 383.3 L658.3 383.3 L661.3 383.3 L664.3 383.3 L667.3 383.4 L670.3 383.5 L673.3 383.7 L676.3 383.9 L679.3 384.1 L682.3 384.4 L685.3 384.7 L688.3 385.0 L691.3 385.4 L694.3 385.8 L697.3 386.2 L700.3 386.7 L706.3 387.7 L712.3 388.9 L718.3 390.2 L724.3 391.5 L730.3 393.0 L736.3 394.6 L742.3 396.3 L748.3 398.1 L754.3 399.9 L760.3 401.9 L766.3 403.9 L772.3 406.0 L778.3 408.2 L784.3 410.5 L790.3 412.8 L796.3 415.2 L802.3 417.7 L808.3 420.2 L814.3 422.8 L820.3 425.4 L826.3 428.1 L832.3 430.9 L838.3 433.7 L844.3 436.5 L850.3 439.4 L856.3 442.3 L862.3 445.3 L868.3 448.3 L874.3 451.3 L880.3 454.4 L886.3 457.5 L892.3 460.7 L898.3 463.9 L904.3 467.1 L910.3 470.3 L916.3 473.6 L922.3 476.9 L928.3 480.3 L934.3 483.6 L940.3 487.0 L946.3 490.4 L952.3 493.9 L958.3 497.3 L964.3 500.8 L970.3 504.3 L976.3 507.8 L982.3 511.3 L988.3 514.9 L994.3 518.5 L1000.3 522.0 L1006.3 525.6 L1012.3 529.3 L1018.3 532.9 L1024.3 536.5 L1030.3 540.2 L1036.3 543.8 L1042.3 547.5 L1048.3 551.2 L1054.3 554.9 L1060.3 558.6 L1066.3 562.3 L1072.3 566.1 L1078.3 569.8 L1084.3 573.5 L1090.3 577.3 L1096.3 581.0 L1102.3 584.8 L1108.3 588.5 L1114.3 592.3 L1120.3 596.1 L1126.3 599.8 L1132.3 603.6 L1138.3 607.4 L1144.3 611.2 L1150.3 615.0 L1156.3 618.7 L1162.3 622.5 L1168.3 626.3 L1174.3 630.1 L1180.3 633.9 L1186.3 637.7 L1192.3 641.5 L1198.3 645.2 L1204.3 649.0 L1210.3 652.8 L1216.3 656.6 L1222.3 660.4 L1228.3 664.1 L1234.3 667.9 L1240.3 671.7 L1246.3 675.4 L1252.3 679.2 L1258.3 682.9 L1264.3 686.7 L1270.3 690.4 L1276.3 694.2 L1282.3 697.9 L1288.3 701.6 L1294.3 705.3 L1300.3 709.1 L1306.3 712.8 L1312.3 716.5 L1318.3 720.1 L1324.3 723.8 L1330.3 727.5 L1336.3 731.1 L1342.3 734.7 L1348.3 738.4 L1354.3 742.0 L1360.3 745.5 L1366.3 749.1 L1372.3 752.6 L1378.3 756.2 L1384.3 759.7 L1390.3 763.2 L1396.3 766.6 L1402.3 770.1 L1408.3 773.5 L1414.3 776.9 L1420.3 780.2 L1426.3 783.6 L1432.3 786.9 L1438.3 790.2 L1444.3 793.5 L1450.3 796.7 L1456.3 799.9 L1462.3 803.1 L1468.3 806.3 L1474.3 809.4 L1480.3 812.5 L1486.3 815.5 L1492.3 818.6 L1498.3 821.6 L1504.3 824.5 L1510.3 827.4 L1516.3 830.3 L1522.3 833.2 L1528.3 836.0 L1534.3 838.8 L1540.3 841.6 L1546.3 844.3 L1552.3 847.0 L1558.3 849.7 L1564.3 852.3 L1570.3 854.9 L1576.3 857.5 L1582.3 860.0 L1588.3 862.5 L1594.3 865.0 L1600.3 867.5 L1606.3 869.9 L1612.3 872.3 L1618.3 874.7 L1624.3 877.0 L1630.3 879.4 L1636.3 881.7 L1642.3 884.0 L1648.3 886.2 L1654.3 888.4 L1660.3 890.6 L1666.3 892.8 L1672.3 895.0 L1678.3 897.1 L1684.3 899.2 L1690.3 901.3 L1696.3 903.4 L1702.3 905.5 L1708.3 907.5 L1714.3 909.5 L1720.3 911.5 L1726.3 913.5 L1732.3 915.5 L1738.3 917.4 L1744.3 919.3 L1750.3 921.3 L1756.3 923.1 L1762.3 925.0 L1768.3 926.9 L1774.3 928.7 L1780.3 930.6 L1784.0 931.7"/>
<path stroke="#800000" d="M376.9 767.2 L378.4 759.8 L379.9 752.3 L381.4 744.7 L382.9 737.1 L384.4 729.5 L385.9 721.9 L387.4 714.4 L388.9 706.9 L390.4 699.6 L391.9 692.3 L393.4 685.1 L394.9 678.0 L396.4 670.9 L397.9 664.0 L399.4 657.2 L400.9 650.5 L402.4 643.9 L403.9 637.5 L405.4 631.1 L406.9 624.8 L408.4 618.7 L409.9 612.7 L411.4 606.8 L412.9 600.9 L414.4 595.2 L415.9 589.7 L417.4 584.2 L418.9 578.8 L420.4 573.6 L421.9 568.4 L423.4 563.4 L424.9 558.5 L426.4 553.7 L427.9 548.9 L429.4 544.3 L430.9 539.8 L432.4 535.3 L433.9 531.0 L435.4 526.7 L436.9 522.5 L438.4 518.4 L439.9 514.4 L441.4 510.4 L442.9 506.5 L444.4 502.7 L445.9 499.0 L447.4 495.3 L448.9 491.7 L450.4 488.2 L453.4 481.4 L456.4 474.7 L459.4 468.4 L462.4 462.2 L465.4 456.3 L468.4 450.6 L471.4 445.1 L474.4 439.8 L477.4 434.6 L480.4 429.7 L483.4 425.0 L486.4 420.4 L489.4 416.0 L492.4 411.8 L495.4 407.7 L498.4 403.8 L501.4 400.0 L504.4 396.4 L507.4 392.9 L510.4 389.6 L513.4 386.4 L516.4 383.4 L519.4 380.4 L522.4 377.6 L525.4 374.9 L528.4 372.4 L531.4 369.9 L534.4 367.6 L537.4 365.3 L540.4 363.2 L543.4 361.1 L546.4 359.2 L549.4 357.3 L552.4 355.5 L555.4 353.8 L558.4 352.2 L561.4 350.7 L564.4 349.3 L567.4 347.9 L570.4 346.6 L573.4 345.4 L576.4 344.2 L579.4 343.1 L582.4 342.1 L585.4 341.1 L588.4 340.2 L591.4 339.4 L594.4 338.6 L597.4 337.9 L600.4 337.2 L603.4 336.6 L606.4 336.0 L609.4 335.5 L612.4 335.0 L615.4 334.6 L618.4 334.3 L621.4 333.9 L624.4 333.7 L627.4 333.4 L630.4 333.2 L633.4 333.1 L636.4 333.0 L639.4 332.9 L642.4 332.9 L645.4 332.9 L648.4 332.9 L651.4 333.0 L654.4 333.1 L657.4 333.3 L660.4 333.5 L663.4 333.7 L666.4 333.9 L669.4 334.2 L672.4 334.5 L675.4 334.8 L678.4 335.2 L681.4 335.6 L684.4 336.0 L687.4 336.5 L690.4 336.9 L693.4 337.4 L696.4 338.0 L699.4 338.5 L702.4 339.1 L708.4 340.3 L714.4 341.6 L720.4 343.0 L726.4 344.4 L732.4 346.0 L738.4 347.6 L744.4 349.3 L750.4 351.0 L756.4 352.9 L762.4 354.8 L768.4 356.7 L774.4 358.8 L780.4 360.9 L786.4 363.1 L792.4 365.3 L798.4 367.6 L804.4 370.0 L810.4 372.4 L816.4 374.9 L822.4 377.5 L828.4 380.1 L834.4 382.8 L840.4 385.6 L846.4 388.4 L852.4 391.3 L858.4 394.2 L864.4 397.2 L870.4 400.3 L876.4 403.4 L882.4 406.6 L888.4 409.8 L894.4 413.1 L900.4 416.4 L906.4 419.8 L912.4 423.2 L918.4 426.6 L924.4 430.1 L930.4 433.6 L936.4 437.1 L942.4 440.6 L948.4 444.1 L954.4 447.6 L960.4 451.1 L966.4 454.6 L972.4 458.1 L978.4 461.6 L984.4 465.1 L990.4 468.6 L996.4 472.0 L1002.4 475.4 L1008.4 478.9 L1014.4 482.3 L1020.4 485.7 L1026.4 489.1 L1032.4 492.6 L1038.4 496.0 L1044.4 499.4 L1050.4 502.9 L1056.4 506.4 L1062.4 509.9 L1068.4 513.4 L1074.4 517.0 L1080.4 520.6 L1086.4 524.2 L1092.4 527.9 L1098.4 531.6 L1104.4 535.3 L1110.4 539.1 L1116.4 542.9 L1122.4 546.8 L1128.4 550.7 L1134.4 554.7 L1140.4 558.6 L1146.4 562.7 L1152.4 566.7 L1158.4 570.8 L1164.4 574.8 L1170.4 578.9 L1176.4 583.0 L1182.4 587.2 L1188.4 591.3 L1194.4 595.4 L1200.4 599.6 L1206.4 603.7 L1212.4 607.9 L1218.4 612.0 L1224.4 616.1 L1230.4 620.2 L1236.4 624.3 L1242.4 628.4 L1248.4 632.5 L1254.4 636.6 L1260.4 640.6 L1266.4 644.6 L1272.4 648.6 L1278.4 652.6 L1284.4 656.6 L1290.4 660.5 L1296.4 664.5 L1302.4 668.4 L1308.4 672.2 L1314.4 676.1 L1320.4 679.9 L1326.4 683.7 L1332.4 687.5 L1338.4 691.3 L1344.4 695.0 L1350.4 698.7 L1356.4 702.4 L1362.4 706.1 L1368.4 709.7 L1374.4 713.3 L1380.4 716.9 L1386.4 720.5 L1392.4 724.0 L1398.4 727.5 L1404.4 731.0 L1410.4 734.4 L1416.4 737.9 L1422.4 741.3 L1428.4 744.6 L1434.4 748.0 L1440.4 751.3 L1446.4 754.5 L1452.4 757.8 L1458.4 761.0 L1464.4 764.2 L1470.4 767.3 L1476.4 770.5 L1482.4 773.6 L1488.4 776.6 L1494.4 779.7 L1500.4 782.7 L1506.4 785.6 L1512.4 788.6 L1518.4 791.5 L1524.4 794.3 L1530.4 797.2 L1536.4 800.0 L1542.4 802.8 L1548.4 805.5 L1554.4 808.3 L1560.4 811.0 L1566.4 813.7 L1572.4 816.3 L1578.4 819.0 L1584.4 821.6 L1590.4 824.3 L1596.4 826.9 L1602.4 829.5 L1608.4 832.1 L1614.4 834.7 L1620.4 837.3 L1626.4 839.8 L1632.4 842.4 L1638.4 845.0 L1644.4 847.5 L1650.4 850.1 L1656.4 852.7 L1662.4 855.3 L1668.4 857.8 L1674.4 860.4 L1680.4 863.0 L1686.4 865.5 L1692.4 868.1 L1698.4 870.6 L1704.4 873.1 L1710.4 875.5 L1716.4 877.9 L1722.4 880.3 L1728.4 882.6 L1734.4 884.9 L1740.4 887.2 L1746.4 889.4 L1752.4 891.5 L1758.4 893.5 L1764.4 895.5 L1770.4 897.4 L1776.4 899.3 L1782.4 901.1 L1784.0 901.5"/>
<path stroke="#FF0080" d="M376.9 581.2 L378.4 572.8 L379.9 565.0 L381.4 557.6 L382.9 550.6 L384.4 543.8 L385.9 537.3 L387.4 531.1 L388.9 524.9 L390.4 519.0 L391.9 513.1 L393.4 507.4 L394.9 501.8 L396.4 496.2 L397.9 490.7 L399.4 485.3 L400.9 480.0 L402.4 474.7 L403.9 469.5 L405.4 464.3 L406.9 459.1 L408.4 454.0 L409.9 448.9 L411.4 443.8 L412.9 438.8 L414.4 433.8 L415.9 428.9 L417.4 424.0 L418.9 419.2 L420.4 414.5 L421.9 409.8 L423.4 405.2 L424.9 400.7 L426.4 396.3 L427.9 392.0 L429.4 387.8 L430.9 383.8 L432.4 379.9 L433.9 376.1 L435.4 372.4 L436.9 368.9 L438.4 365.4 L439.9 362.1 L441.4 358.9 L442.9 355.7 L444.4 352.7 L445.9 349.8 L447.4 346.9 L448.9 344.2 L450.4 341.5 L453.4 336.3 L456.4 331.4 L459.4 326.8 L462.4 322.5 L465.4 318.4 L468.4 314.4 L471.4 310.7 L474.4 307.2 L477.4 303.8 L480.4 300.6 L483.4 297.5 L486.4 294.6 L489.4 291.8 L492.4 289.1 L495.4 286.5 L498.4 284.1 L501.4 281.7 L504.4 279.4 L507.4 277.2 L510.4 275.1 L513.4 273.1 L516.4 271.1 L519.4 269.3 L522.4 267.5 L525.4 265.9 L528.4 264.3 L531.4 262.8 L534.4 261.4 L537.4 260.0 L540.4 258.8 L543.4 257.6 L546.4 256.6 L549.4 255.6 L552.4 254.7 L555.4 253.8 L558.4 253.1 L561.4 252.4 L564.4 251.8 L567.4 251.2 L570.4 250.8 L573.4 250.4 L576.4 250.0 L579.4 249.7 L582.4 249.5 L585.4 249.3 L588.4 249.2 L591.4 249.2 L594.4 249.2 L597.4 249.2 L600.4 249.3 L603.4 249.4 L606.4 249.6 L609.4 249.8 L612.4 250.1 L615.4 250.4 L618.4 250.8 L621.4 251.2 L624.4 251.6 L627.4 252.0 L630.4 252.5 L633.4 253.1 L636.4 253.6 L639.4 254.2 L642.4 254.8 L645.4 255.5 L648.4 256.1 L651.4 256.8 L654.4 257.6 L657.4 258.3 L660.4 259.1 L663.4 259.9 L666.4 260.7 L669.4 261.6 L672.4 262.4 L675.4 263.3 L678.4 264.2 L681.4 265.2 L684.4 266.1 L687.4 267.1 L690.4 268.1 L693.4 269.0 L696.4 270.1 L699.4 271.1 L702.4 272.1 L708.4 274.2 L714.4 276.4 L720.4 278.6 L726.4 280.9 L732.4 283.2 L738.4 285.5 L744.4 287.9 L750.4 290.3 L756.4 292.7 L762.4 295.2 L768.4 297.7 L774.4 300.2 L780.4 302.8 L786.4 305.4 L792.4 308.0 L798.4 310.8 L804.4 313.5 L810.4 316.4 L816.4 319.3 L822.4 322.3 L828.4 325.3 L834.4 328.5 L840.4 331.7 L846.4 334.9 L852.4 338.3 L858.4 341.7 L864.4 345.2 L870.4 348.8 L876.4 352.4 L882.4 356.0 L888.4 359.7 L894.4 363.5 L900.4 367.3 L906.4 371.1 L912.4 375.0 L918.4 378.9 L924.4 382.8 L930.4 386.8 L936.4 390.8 L942.4 394.8 L948.4 398.8 L954.4 402.8 L960.4 406.9 L966.4 410.9 L972.4 415.0 L978.4 419.0 L984.4 423.1 L990.4 427.1 L996.4 431.2 L1002.4 435.3 L1008.4 439.3 L1014.4 443.4 L1020.4 447.5 L1026.4 451.5 L1032.4 455.6 L1038.4 459.7 L1044.4 463.8 L1050.4 467.9 L1056.4 472.1 L1062.4 476.2 L1068.4 480.4 L1074.4 484.5 L1080.4 488.7 L1086.4 493.0 L1092.4 497.2 L1098.4 501.4 L1104.4 505.7 L1110.4 510.0 L1116.4 514.3 L1122.4 518.6 L1128.4 523.0 L1134.4 527.4 L1140.4 531.7 L1146.4 536.1 L1152.4 540.5 L1158.4 544.9 L1164.4 549.3 L1170.4 553.7 L1176.4 558.0 L1182.4 562.4 L1188.4 566.7 L1194.4 571.1 L1200.4 575.4 L1206.4 579.7 L1212.4 584.0 L1218.4 588.3 L1224.4 592.5 L1230.4 596.7 L1236.4 600.9 L1242.4 605.0 L1248.4 609.1 L1254.4 613.2 L1260.4 617.2 L1266.4 621.2 L1272.4 625.2 L1278.4 629.1 L1284.4 633.1 L1290.4 636.9 L1296.4 640.8 L1302.4 644.6 L1308.4 648.4 L1314.4 652.2 L1320.4 656.0 L1326.4 659.7 L1332.4 663.4 L1338.4 667.1 L1344.4 670.8 L1350.4 674.5 L1356.4 678.1 L1362.4 681.7 L1368.4 685.4 L1374.4 689.0 L1380.4 692.6 L1386.4 696.1 L1392.4 699.7 L1398.4 703.3 L1404.4 706.8 L1410.4 710.3 L1416.4 713.9 L1422.4 717.4 L1428.4 720.9 L1434.4 724.4 L1440.4 727.9 L1446.4 731.4 L1452.4 734.9 L1458.4 738.3 L1464.4 741.7 L1470.4 745.1 L1476.4 748.5 L1482.4 751.9 L1488.4 755.2 L1494.4 758.5 L1500.4 761.7 L1506.4 764.9 L1512.4 768.1 L1518.4 771.3 L1524.4 774.4 L1530.4 777.5 L1536.4 780.5 L1542.4 783.5 L1548.4 786.4 L1554.4 789.4 L1560.4 792.3 L1566.4 795.1 L1572.4 797.9 L1578.4 800.7 L1584.4 803.5 L1590.4 806.2 L1596.4 808.9 L1602.4 811.6 L1608.4 814.3 L1614.4 816.9 L1620.4 819.5 L1626.4 822.1 L1632.4 824.6 L1638.4 827.2 L1644.4 829.7 L1650.4 832.2 L1656.4 834.6 L1662.4 837.1 L1668.4 839.5 L1674.4 842.0 L1680.4 844.4 L1686.4 846.7 L1692.4 849.1 L1698.4 851.5 L1704.4 853.8 L1710.4 856.2 L1716.4 858.5 L1722.4 860.8 L1728.4 863.1 L1734.4 865.4 L1740.4 867.7 L1746.4 870.0 L1752.4 872.3 L1758.4 874.5 L1764.4 876.8 L1770.4 879.0 L1776.4 881.3 L1782.4 883.5 L1784.0 884.1"/>
<path stroke="#008080" d="M376.9 430.4 L378.4 422.1 L379.9 414.4 L381.4 407.1 L382.9 400.3 L384.4 393.8 L385.9 387.6 L387.4 381.7 L388.9 376.0 L390.4 370.6 L391.9 365.3 L393.4 360.3 L394.9 355.4 L396.4 350.7 L397.9 346.2 L399.4 341.7 L400.9 337.5 L402.4 333.3 L403.9 329.3 L405.4 325.4 L406.9 321.6 L408.4 317.9 L409.9 314.2 L411.4 310.7 L412.9 307.3 L414.4 304.0 L415.9 300.7 L417.4 297.6 L418.9 294.5 L420.4 291.5 L421.9 288.6 L423.4 285.7 L424.9 282.9 L426.4 280.2 L427.9 277.5 L429.4 274.9 L430.9 272.4 L432.4 269.9 L433.9 267.5 L435.4 265.1 L436.9 262.8 L438.4 260.6 L439.9 258.4 L441.4 256.2 L442.9 254.1 L444.4 252.1 L445.9 250.1 L447.4 248.1 L448.9 246.2 L450.4 244.4 L453.4 240.8 L456.4 237.4 L459.4 234.2 L462.4 231.2 L465.4 228.3 L468.4 225.5 L471.4 222.9 L474.4 220.4 L477.4 218.0 L480.4 215.8 L483.4 213.7 L486.4 211.7 L489.4 209.8 L492.4 208.0 L495.4 206.3 L498.4 204.7 L501.4 203.2 L504.4 201.8 L507.4 200.5 L510.4 199.3 L513.4 198.1 L516.4 197.1 L519.4 196.1 L522.4 195.2 L525.4 194.3 L528.4 193.5 L531.4 192.8 L534.4 192.2 L537.4 191.6 L540.4 191.1 L543.4 190.6 L546.4 190.2 L549.4 189.9 L552.4 189.6 L555.4 189.4 L558.4 189.2 L561.4 189.1 L564.4 189.0 L567.4 189.0 L570.4 189.1 L573.4 189.1 L576.4 189.3 L579.4 189.4 L582.4 189.6 L585.4 189.9 L588.4 190.2 L591.4 190.5 L594.4 190.9 L597.4 191.3 L600.4 191.7 L603.4 192.2 L606.4 192.7 L609.4 193.3 L612.4 193.9 L615.4 194.5 L618.4 195.1 L621.4 195.8 L624.4 196.5 L627.4 197.3 L630.4 198.0 L633.4 198.8 L636.4 199.7 L639.4 200.5 L642.4 201.4 L645.4 202.3 L648.4 203.2 L651.4 204.2 L654.4 205.2 L657.4 206.2 L660.4 207.2 L663.4 208.2 L666.4 209.3 L669.4 210.4 L672.4 211.5 L675.4 212.7 L678.4 213.8 L681.4 215.0 L684.4 216.2 L687.4 217.4 L690.4 218.6 L693.4 219.9 L696.4 221.2 L699.4 222.4 L702.4 223.7 L708.4 226.4 L714.4 229.1 L720.4 231.9 L726.4 234.8 L732.4 237.7 L738.4 240.6 L744.4 243.6 L750.4 246.7 L756.4 249.8 L762.4 253.0 L768.4 256.2 L774.4 259.4 L780.4 262.7 L786.4 266.1 L792.4 269.4 L798.4 272.8 L804.4 276.3 L810.4 279.8 L816.4 283.3 L822.4 286.8 L828.4 290.4 L834.4 294.0 L840.4 297.6 L846.4 301.3 L852.4 305.0 L858.4 308.7 L864.4 312.4 L870.4 316.2 L876.4 320.0 L882.4 323.8 L888.4 327.6 L894.4 331.5 L900.4 335.3 L906.4 339.2 L912.4 343.1 L918.4 347.1 L924.4 351.0 L930.4 355.0 L936.4 359.0 L942.4 363.0 L948.4 367.0 L954.4 371.1 L960.4 375.1 L966.4 379.2 L972.4 383.3 L978.4 387.4 L984.4 391.6 L990.4 395.7 L996.4 399.9 L1002.4 404.1 L1008.4 408.3 L1014.4 412.5 L1020.4 416.7 L1026.4 421.0 L1032.4 425.2 L1038.4 429.5 L1044.4 433.8 L1050.4 438.1 L1056.4 442.4 L1062.4 446.7 L1068.4 451.1 L1074.4 455.4 L1080.4 459.8 L1086.4 464.1 L1092.4 468.5 L1098.4 472.9 L1104.4 477.2 L1110.4 481.6 L1116.4 486.0 L1122.4 490.4 L1128.4 494.8 L1134.4 499.2 L1140.4 503.6 L1146.4 507.9 L1152.4 512.3 L1158.4 516.7 L1164.4 521.1 L1170.4 525.4 L1176.4 529.8 L1182.4 534.1 L1188.4 538.5 L1194.4 542.8 L1200.4 547.2 L1206.4 551.5 L1212.4 555.8 L1218.4 560.1 L1224.4 564.4 L1230.4 568.7 L1236.4 572.9 L1242.4 577.2 L1248.4 581.4 L1254.4 585.6 L1260.4 589.8 L1266.4 594.0 L1272.4 598.2 L1278.4 602.4 L1284.4 606.5 L1290.4 610.7 L1296.4 614.8 L1302.4 618.9 L1308.4 622.9 L1314.4 627.0 L1320.4 631.0 L1326.4 635.1 L1332.4 639.1 L1338.4 643.0 L1344.4 647.0 L1350.4 650.9 L1356.4 654.9 L1362.4 658.8 L1368.4 662.6 L1374.4 666.5 L1380.4 670.3 L1386.4 674.1 L1392.4 677.9 L1398.4 681.7 L1404.4 685.4 L1410.4 689.2 L1416.4 692.9 L1422.4 696.5 L1428.4 700.2 L1434.4 703.8 L1440.4 707.4 L1446.4 711.0 L1452.4 714.5 L1458.4 718.1 L1464.4 721.6 L1470.4 725.0 L1476.4 728.5 L1482.4 731.9 L1488.4 735.3 L1494.4 738.7 L1500.4 742.0 L1506.4 745.3 L1512.4 748.6 L1518.4 751.9 L1524.4 755.1 L1530.4 758.3 L1536.4 761.5 L1542.4 764.7 L1548.4 767.8 L1554.4 770.9 L1560.4 774.0 L1566.4 777.0 L1572.4 780.0 L1578.4 783.0 L1584.4 786.0 L1590.4 788.9 L1596.4 791.8 L1602.4 794.7 L1608.4 797.5 L1614.4 800.3 L1620.4 803.1 L1626.4 805.9 L1632.4 808.6 L1638.4 811.3 L1644.4 813.9 L1650.4 816.6 L1656.4 819.2 L1662.4 821.7 L1668.4 824.3 L1674.4 826.8 L1680.4 829.3 L1686.4 831.7 L1692.4 834.1 L1698.4 836.5 L1704.4 838.9 L1710.4 841.2 L1716.4 843.5 L1722.4 845.7 L1728.4 848.0 L1734.4 850.2 L1740.4 852.3 L1746.4 854.5 L1752.4 856.6 L1758.4 858.6 L1764.4 860.7 L1770.4 862.7 L1776.4 864.6 L1782.4 866.6 L1784.0 867.1"/>
<path stroke="#000080" d="M376.9 338.4 L378.4 332.6 L379.9 327.0 L381.4 321.4 L382.9 316.1 L384.4 310.8 L385.9 305.7 L387.4 300.7 L388.9 295.8 L390.4 291.1 L391.9 286.4 L393.4 281.9 L394.9 277.5 L396.4 273.2 L397.9 269.1 L399.4 265.0 L400.9 261.1 L402.4 257.2 L403.9 253.5 L405.4 249.8 L406.9 246.3 L408.4 242.9 L409.9 239.5 L411.4 236.3 L412.9 233.1 L414.4 230.1 L415.9 227.1 L417.4 224.3 L418.9 221.5 L420.4 218.8 L421.9 216.1 L423.4 213.6 L424.9 211.1 L426.4 208.7 L427.9 206.4 L429.4 204.1 L430.9 201.9 L432.4 199.8 L433.9 197.7 L435.4 195.7 L436.9 193.8 L438.4 191.9 L439.9 190.1 L441.4 188.3 L442.9 186.6 L444.4 184.9 L445.9 183.3 L447.4 181.8 L448.9 180.2 L450.4 178.8 L453.4 176.0 L456.4 173.4 L459.4 171.0 L462.4 168.7 L465.4 166.7 L468.4 164.7 L471.4 162.9 L474.4 161.3 L477.4 159.8 L480.4 158.4 L483.4 157.1 L486.4 155.9 L489.4 154.8 L492.4 153.9 L495.4 153.0 L498.4 152.2 L501.4 151.5 L504.4 150.9 L507.4 150.4 L510.4 150.0 L513.4 149.6 L516.4 149.3 L519.4 149.1 L522.4 148.9 L525.4 148.8 L528.4 148.8 L531.4 148.8 L534.4 148.9 L537.4 149.0 L540.4 149.2 L543.4 149.4 L546.4 149.7 L549.4 150.0 L552.4 150.4 L555.4 150.8 L558.4 151.2 L561.4 151.7 L564.4 152.3 L567.4 152.8 L570.4 153.4 L573.4 154.1 L576.4 154.8 L579.4 155.5 L582.4 156.2 L585.4 157.0 L588.4 157.8 L591.4 158.6 L594.4 159.5 L597.4 160.4 L600.4 161.3 L603.4 162.2 L606.4 163.2 L609.4 164.1 L612.4 165.1 L615.4 166.2 L618.4 167.2 L621.4 168.3 L624.4 169.4 L627.4 170.5 L630.4 171.6 L633.4 172.8 L636.4 173.9 L639.4 175.1 L642.4 176.3 L645.4 177.5 L648.4 178.8 L651.4 180.0 L654.4 181.3 L657.4 182.6 L660.4 183.9 L663.4 185.2 L666.4 186.6 L669.4 187.9 L672.4 189.3 L675.4 190.7 L678.4 192.1 L681.4 193.5 L684.4 194.9 L687.4 196.3 L690.4 197.8 L693.4 199.3 L696.4 200.8 L699.4 202.3 L702.4 203.8 L708.4 206.8 L714.4 209.9 L720.4 213.1 L726.4 216.3 L732.4 219.5 L738.4 222.8 L744.4 226.2 L750.4 229.6 L756.4 233.0 L762.4 236.4 L768.4 239.9 L774.4 243.5 L780.4 247.1 L786.4 250.7 L792.4 254.3 L798.4 258.0 L804.4 261.7 L810.4 265.5 L816.4 269.2 L822.4 273.1 L828.4 276.9 L834.4 280.8 L840.4 284.6 L846.4 288.6 L852.4 292.5 L858.4 296.5 L864.4 300.4 L870.4 304.5 L876.4 308.5 L882.4 312.5 L888.4 316.6 L894.4 320.7 L900.4 324.8 L906.4 328.9 L912.4 333.0 L918.4 337.2 L924.4 341.4 L930.4 345.6 L936.4 349.8 L942.4 354.0 L948.4 358.2 L954.4 362.5 L960.4 366.8 L966.4 371.1 L972.4 375.4 L978.4 379.7 L984.4 384.1 L990.4 388.4 L996.4 392.8 L1002.4 397.2 L1008.4 401.7 L1014.4 406.1 L1020.4 410.6 L1026.4 415.0 L1032.4 419.5 L1038.4 424.0 L1044.4 428.5 L1050.4 433.1 L1056.4 437.6 L1062.4 442.1 L1068.4 446.6 L1074.4 451.2 L1080.4 455.7 L1086.4 460.3 L1092.4 464.8 L1098.4 469.4 L1104.4 473.9 L1110.4 478.5 L1116.4 483.0 L1122.4 487.6 L1128.4 492.1 L1134.4 496.6 L1140.4 501.2 L1146.4 505.7 L1152.4 510.2 L1158.4 514.7 L1164.4 519.2 L1170.4 523.7 L1176.4 528.1 L1182.4 532.6 L1188.4 537.0 L1194.4 541.5 L1200.4 545.9 L1206.4 550.3 L1212.4 554.7 L1218.4 559.0 L1224.4 563.4 L1230.4 567.7 L1236.4 572.1 L1242.4 576.4 L1248.4 580.6 L1254.4 584.9 L1260.4 589.1 L1266.4 593.4 L1272.4 597.6 L1278.4 601.8 L1284.4 605.9 L1290.4 610.1 L1296.4 614.2 L1302.4 618.3 L1308.4 622.4 L1314.4 626.4 L1320.4 630.5 L1326.4 634.5 L1332.4 638.5 L1338.4 642.4 L1344.4 646.4 L1350.4 650.3 L1356.4 654.2 L1362.4 658.1 L1368.4 661.9 L1374.4 665.8 L1380.4 669.6 L1386.4 673.4 L1392.4 677.1 L1398.4 680.9 L1404.4 684.6 L1410.4 688.3 L1416.4 691.9 L1422.4 695.6 L1428.4 699.2 L1434.4 702.8 L1440.4 706.4 L1446.4 709.9 L1452.4 713.4 L1458.4 716.9 L1464.4 720.4 L1470.4 723.8 L1476.4 727.2 L1482.4 730.6 L1488.4 734.0 L1494.4 737.3 L1500.4 740.7 L1506.4 744.0 L1512.4 747.2 L1518.4 750.5 L1524.4 753.7 L1530.4 756.9 L1536.4 760.0 L1542.4 763.2 L1548.4 766.3 L1554.4 769.3 L1560.4 772.4 L1566.4 775.4 L1572.4 778.4 L1578.4 781.4 L1584.4 784.4 L1590.4 787.3 L1596.4 790.2 L1602.4 793.0 L1608.4 795.9 L1614.4 798.7 L1620.4 801.5 L1626.4 804.2 L1632.4 807.0 L1638.4 809.7 L1644.4 812.4 L1650.4 815.0 L1656.4 817.6 L1662.4 820.2 L1668.4 822.8 L1674.4 825.3 L1680.4 827.9 L1686.4 830.3 L1692.4 832.8 L1698.4 835.2 L1704.4 837.6 L1710.4 840.0 L1716.4 842.3 L1722.4 844.7 L1728.4 847.0 L1734.4 849.2 L1740.4 851.4 L1746.4 853.7 L1752.4 855.8 L1758.4 858.0 L1764.4 860.1 L1770.4 862.2 L1776.4 864.3 L1782.4 866.3 L1784.0 866.8"/>
</g>
<g stroke="#000" stroke-width="7" stroke-linecap="round" fill="none">
<path d="M360.5 49.2 L360.5 1566.5"/>
<path d="M360.5 1566.5 L1842 1566.5"/>
<path d="M343.5 1566.0 L360.5 1566.0"/>
<path d="M329.5 1457.7 L360.5 1457.7"/>
<path d="M343.5 1349.3 L360.5 1349.3"/>
<path d="M329.5 1241.0 L360.5 1241.0"/>
<path d="M343.5 1132.7 L360.5 1132.7"/>
<path d="M329.5 1024.3 L360.5 1024.3"/>
<path d="M343.5 916.0 L360.5 916.0"/>
<path d="M329.5 807.6 L360.5 807.6"/>
<path d="M343.5 699.2 L360.5 699.2"/>
<path d="M329.5 590.9 L360.5 590.9"/>
<path d="M343.5 482.6 L360.5 482.6"/>
<path d="M329.5 374.2 L360.5 374.2"/>
<path d="M343.5 265.9 L360.5 265.9"/>
<path d="M329.5 157.5 L360.5 157.5"/>
<path d="M343.5 49.2 L360.5 49.2"/>
<path d="M360.3 1566.5 L360.3 1594.5"/>
<path d="M494.8 1566.5 L494.8 1579.5"/>
<path d="M629.3 1566.5 L629.3 1594.5"/>
<path d="M763.8 1566.5 L763.8 1579.5"/>
<path d="M898.3 1566.5 L898.3 1594.5"/>
<path d="M1032.8 1566.5 L1032.8 1579.5"/>
<path d="M1167.3 1566.5 L1167.3 1594.5"/>
<path d="M1301.8 1566.5 L1301.8 1579.5"/>
<path d="M1436.3 1566.5 L1436.3 1594.5"/>
<path d="M1570.8 1566.5 L1570.8 1579.5"/>
<path d="M1705.3 1566.5 L1705.3 1594.5"/>
<path d="M1842.0 1566.5 L1842.0 1579.5"/>
</g>
<text font-family="'Liberation Sans', sans-serif" font-size="65" fill="#111" text-anchor="end" transform="translate(311.0 1476.7) scale(1 1.04)">-50</text>
<text font-family="'Liberation Sans', sans-serif" font-size="65" fill="#111" text-anchor="end" transform="translate(311.0 1260.0) scale(1 1.04)">0</text>
<text font-family="'Liberation Sans', sans-serif" font-size="65" fill="#111" text-anchor="end" transform="translate(311.0 1043.3) scale(1 1.04)">50</text>
<text font-family="'Liberation Sans', sans-serif" font-size="65" fill="#111" text-anchor="end" transform="translate(311.0 826.6) scale(1 1.04)">100</text>
<text font-family="'Liberation Sans', sans-serif" font-size="65" fill="#111" text-anchor="end" transform="translate(311.0 609.9) scale(1 1.04)">150</text>
<text font-family="'Liberation Sans', sans-serif" font-size="65" fill="#111" text-anchor="end" transform="translate(311.0 393.2) scale(1 1.04)">200</text>
<text font-family="'Liberation Sans', sans-serif" font-size="65" fill="#111" text-anchor="end" transform="translate(311.0 176.5) scale(1 1.04)">250</text>
<text font-family="'Liberation Sans', sans-serif" font-size="65" fill="#111" text-anchor="middle" transform="translate(360.3 1663.0) scale(1 1.04)">0.0</text>
<text font-family="'Liberation Sans', sans-serif" font-size="65" fill="#111" text-anchor="middle" transform="translate(629.3 1663.0) scale(1 1.04)">0.1</text>
<text font-family="'Liberation Sans', sans-serif" font-size="65" fill="#111" text-anchor="middle" transform="translate(898.3 1663.0) scale(1 1.04)">0.2</text>
<text font-family="'Liberation Sans', sans-serif" font-size="65" fill="#111" text-anchor="middle" transform="translate(1167.3 1663.0) scale(1 1.04)">0.3</text>
<text font-family="'Liberation Sans', sans-serif" font-size="65" fill="#111" text-anchor="middle" transform="translate(1436.3 1663.0) scale(1 1.04)">0.4</text>
<text font-family="'Liberation Sans', sans-serif" font-size="65" fill="#111" text-anchor="middle" transform="translate(1705.3 1663.0) scale(1 1.04)">0.5</text>
<text font-family="'Liberation Sans', sans-serif" font-size="78" fill="#111" text-anchor="middle" transform="translate(1116.5 1785.0) scale(1 1.04)">P123 conc.<tspan dx="5">(mM)</tspan></text>
<text font-family="'Liberation Sans', sans-serif" font-size="78" fill="#111" text-anchor="middle" transform="translate(86.4 837) rotate(-90) scale(1 1.04)">ΔH (kJ/mol)</text>
<rect x="1869.5" y="51.5" width="361" height="802" fill="#fff" stroke="#8a8a8a" stroke-width="4"/>
<path d="M1867.5 51.5 L2232.5 51.5" stroke="#4a4a4a" stroke-width="3.5"/>
<path d="M1897 95.8 L2018 95.8" stroke="#00FF00" stroke-width="5.5" stroke-linecap="round"/>
<text font-family="'Liberation Sans', sans-serif" font-size="54.5" fill="#111" text-anchor="start" transform="translate(2032.5 114.8) scale(1 1.04)">0.32 M</text>
<path d="M1897 162.0 L2018 162.0" stroke="#000000" stroke-width="5.5" stroke-linecap="round"/>
<text font-family="'Liberation Sans', sans-serif" font-size="54.5" fill="#111" text-anchor="start" transform="translate(2032.5 181.0) scale(1 1.04)">0.5 M</text>
<path d="M1897 228.2 L2018 228.2" stroke="#FF8000" stroke-width="5.5" stroke-linecap="round"/>
<text font-family="'Liberation Sans', sans-serif" font-size="54.5" fill="#111" text-anchor="start" transform="translate(2032.5 247.2) scale(1 1.04)">0.74 M</text>
<path d="M1897 294.4 L2018 294.4" stroke="#0000FF" stroke-width="5.5" stroke-linecap="round"/>
<text font-family="'Liberation Sans', sans-serif" font-size="54.5" fill="#111" text-anchor="start" transform="translate(2032.5 313.4) scale(1 1.04)">1 M</text>
<path d="M1897 360.6 L2018 360.6" stroke="#008000" stroke-width="5.5" stroke-linecap="round"/>
<text font-family="'Liberation Sans', sans-serif" font-size="54.5" fill="#111" text-anchor="start" transform="translate(2032.5 379.6) scale(1 1.04)">1.25 M</text>
<path d="M1897 426.8 L2018 426.8" stroke="#FF00FF" stroke-width="5.5" stroke-linecap="round"/>
<text font-family="'Liberation Sans', sans-serif" font-size="54.5" fill="#111" text-anchor="start" transform="translate(2032.5 445.8) scale(1 1.04)">1.5 M</text>
<path d="M1897 493.0 L2018 493.0" stroke="#808000" stroke-width="5.5" stroke-linecap="round"/>
<text font-family="'Liberation Sans', sans-serif" font-size="54.5" fill="#111" text-anchor="start" transform="translate(2032.5 512.0) scale(1 1.04)">1.75 M</text>
<path d="M1897 559.2 L2018 559.2" stroke="#FFFF00" stroke-width="5.5" stroke-linecap="round"/>
<text font-family="'Liberation Sans', sans-serif" font-size="54.5" fill="#111" text-anchor="start" transform="translate(2032.5 578.2) scale(1 1.04)">2 M</text>
<path d="M1897 625.4 L2018 625.4" stroke="#800000" stroke-width="5.5" stroke-linecap="round"/>
<text font-family="'Liberation Sans', sans-serif" font-size="54.5" fill="#111" text-anchor="start" transform="translate(2032.5 644.4) scale(1 1.04)">2.25 M</text>
<path d="M1897 691.6 L2018 691.6" stroke="#FF0080" stroke-width="5.5" stroke-linecap="round"/>
<text font-family="'Liberation Sans', sans-serif" font-size="54.5" fill="#111" text-anchor="start" transform="translate(2032.5 710.6) scale(1 1.04)">2.5 M</text>
<path d="M1897 757.8 L2018 757.8" stroke="#008080" stroke-width="5.5" stroke-linecap="round"/>
<text font-family="'Liberation Sans', sans-serif" font-size="54.5" fill="#111" text-anchor="start" transform="translate(2032.5 776.8) scale(1 1.04)">2.75 M</text>
<path d="M1897 824.0 L2018 824.0" stroke="#000080" stroke-width="5.5" stroke-linecap="round"/>
<text font-family="'Liberation Sans', sans-serif" font-size="54.5" fill="#111" text-anchor="start" transform="translate(2032.5 843.0) scale(1 1.04)">3 M</text>
</svg></body></html>
